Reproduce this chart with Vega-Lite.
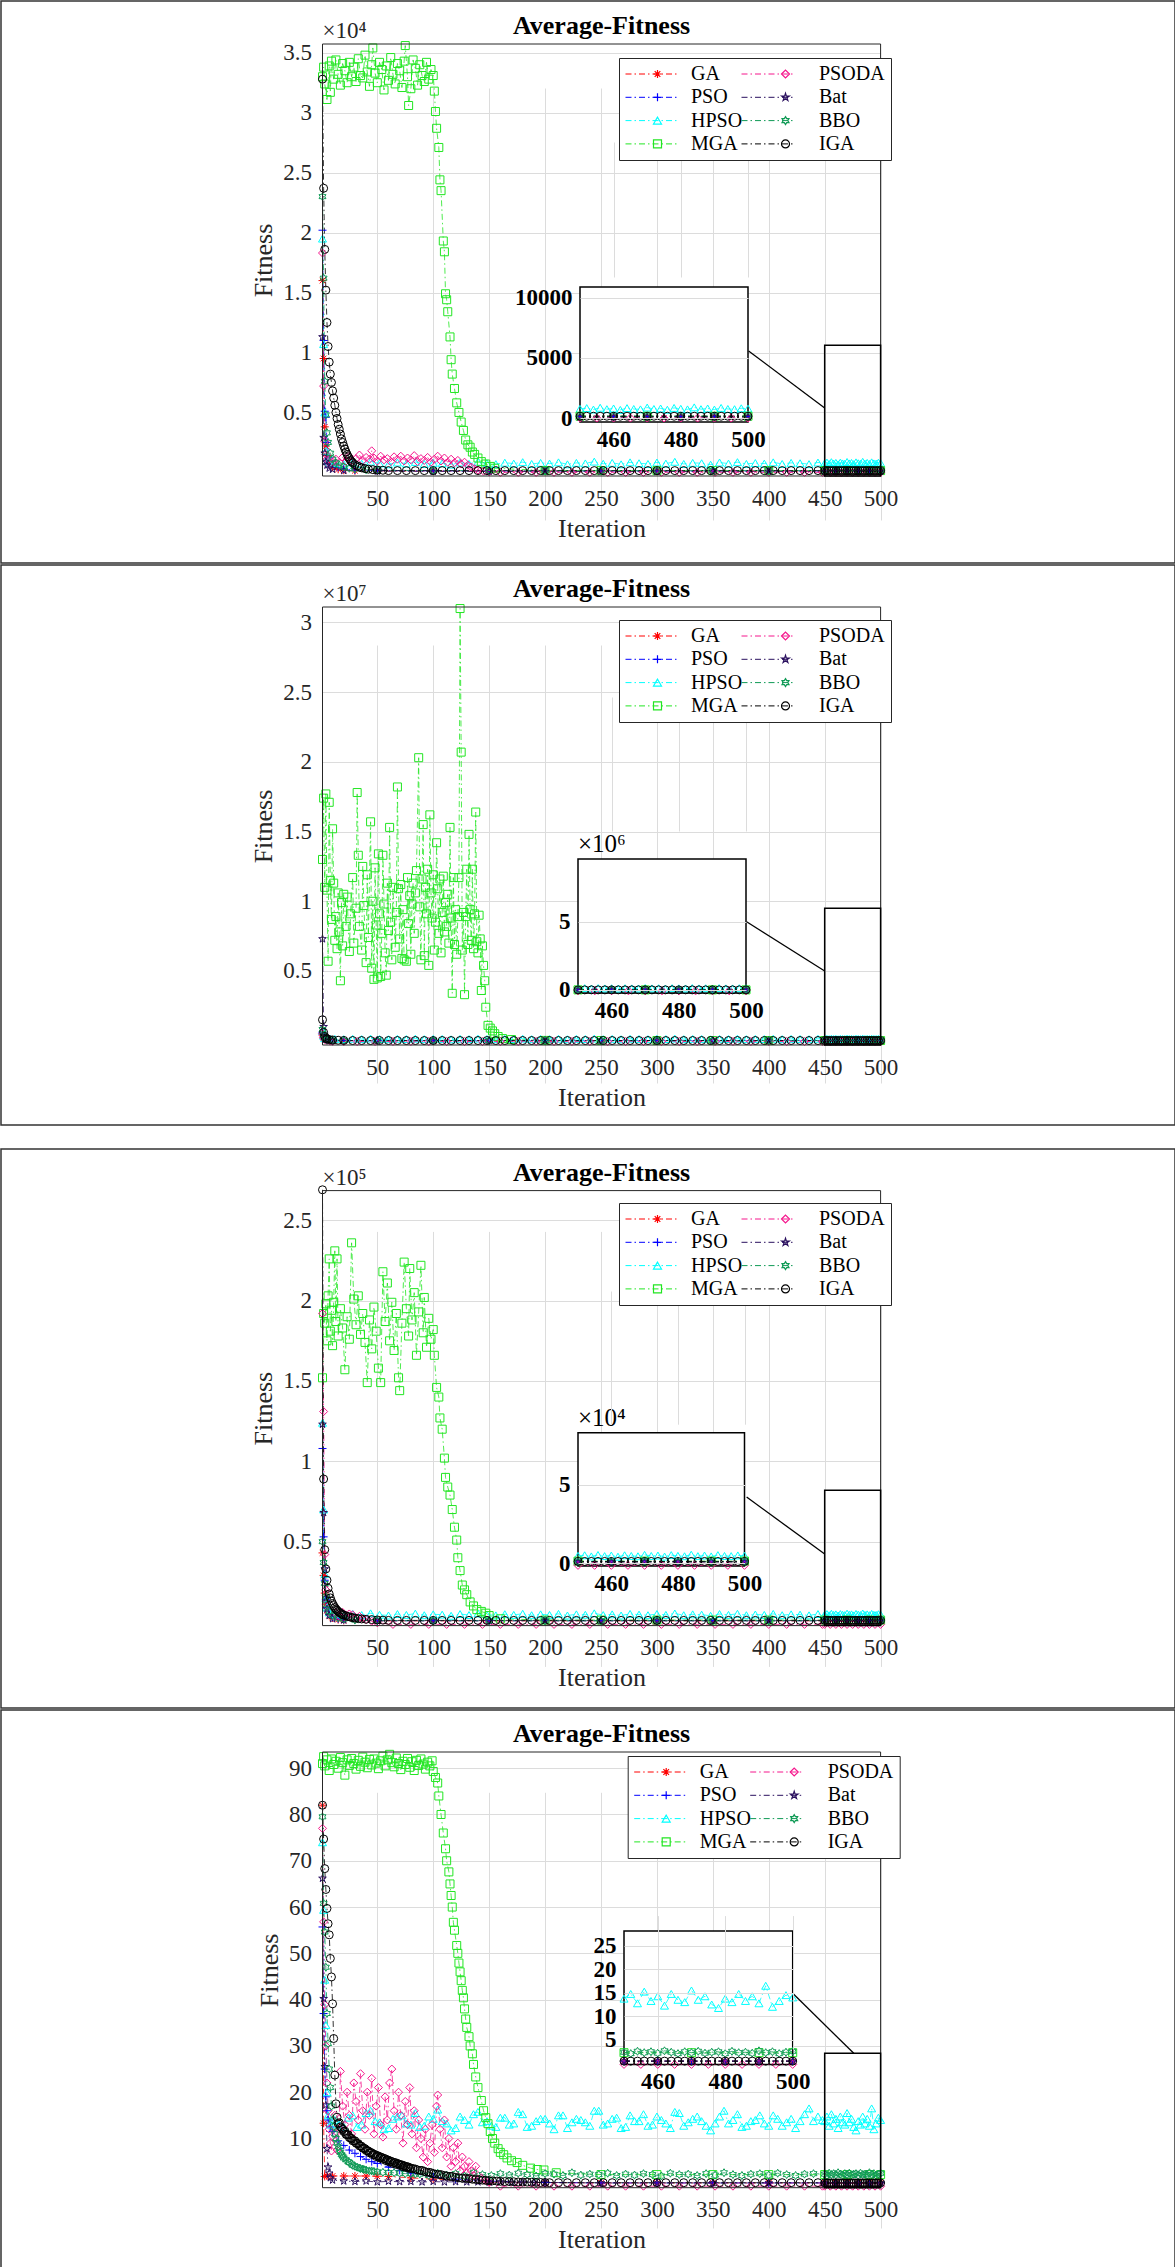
{
"$schema":"https://vega.github.io/schema/vega-lite/v6.json",
"padding":0,
"background":"white",
"config":{
"font":"Liberation Serif",
"view":{"stroke":"#333333","strokeWidth":1.5},
"axis":{"labelFont":"Liberation Serif","titleFont":"Liberation Serif","labelFontSize":23,"titleFontSize":26,"titleFontWeight":"normal","labelColor":"#262626","titleColor":"#262626","domain":false,"ticks":false,"gridColor":"#dcdcdc","gridWidth":1,"labelFlush":false,"labelOverlap":false,"labelBound":false},
"legend":{"labelFont":"Liberation Serif"}
},
"datasets":{
"d1":[
{"s":"GA","x":1,"y":16000},{"s":"GA","x":2,"y":9500},{"s":"GA","x":3,"y":3800},{"s":"GA","x":4,"y":2200},{"s":"GA","x":5,"y":1400},{"s":"GA","x":7,"y":800},{"s":"GA","x":10,"y":450},{"s":"GA","x":15,"y":260},{"s":"GA","x":20,"y":180},{"s":"GA","x":30,"y":140},{"s":"GA","x":50,"y":120},{"s":"GA","x":100,"y":110},{"s":"GA","x":150,"y":100},{"s":"GA","x":200,"y":100},{"s":"GA","x":250,"y":100},{"s":"GA","x":300,"y":100},{"s":"GA","x":350,"y":100},{"s":"GA","x":400,"y":100},{"s":"GA","x":450,"y":100},{"s":"GA","x":460,"y":100},{"s":"GA","x":470,"y":100},{"s":"GA","x":480,"y":100},{"s":"GA","x":490,"y":100},{"s":"GA","x":500,"y":100},
{"s":"PSO","x":1,"y":20200},{"s":"PSO","x":2,"y":11000},{"s":"PSO","x":3,"y":5100},{"s":"PSO","x":4,"y":4600},{"s":"PSO","x":5,"y":2500},{"s":"PSO","x":7,"y":1200},{"s":"PSO","x":10,"y":700},{"s":"PSO","x":15,"y":420},{"s":"PSO","x":20,"y":290},{"s":"PSO","x":30,"y":200},{"s":"PSO","x":50,"y":150},{"s":"PSO","x":100,"y":130},{"s":"PSO","x":150,"y":120},{"s":"PSO","x":200,"y":120},{"s":"PSO","x":250,"y":120},{"s":"PSO","x":300,"y":120},{"s":"PSO","x":350,"y":120},{"s":"PSO","x":400,"y":120},{"s":"PSO","x":450,"y":120},{"s":"PSO","x":460,"y":120},{"s":"PSO","x":470,"y":120},{"s":"PSO","x":480,"y":120},{"s":"PSO","x":490,"y":120},{"s":"PSO","x":500,"y":120},
{"s":"HPSO","x":1,"y":19500},{"s":"HPSO","x":2,"y":10700},{"s":"HPSO","x":3,"y":5000},{"s":"HPSO","x":4,"y":1800},{"s":"HPSO","x":5,"y":1200},{"s":"HPSO","x":6,"y":950},{"s":"HPSO","x":8,"y":820},
{"s":"HPSO","x":12,"y":780},{"s":"HPSO","x":20,"y":690},{"s":"HPSO","x":28,"y":840},{"s":"HPSO","x":36,"y":720},{"s":"HPSO","x":44,"y":900},{"s":"HPSO","x":52,"y":750},{"s":"HPSO","x":60,"y":675},{"s":"HPSO","x":68,"y":825},{"s":"HPSO","x":76,"y":735},{"s":"HPSO","x":84,"y":870},{"s":"HPSO","x":92,"y":705},{"s":"HPSO","x":100,"y":795},{"s":"HPSO","x":108,"y":765},{"s":"HPSO","x":116,"y":645},{"s":"HPSO","x":124,"y":825},{"s":"HPSO","x":132,"y":720},{"s":"HPSO","x":140,"y":885},{"s":"HPSO","x":148,"y":765},{"s":"HPSO","x":156,"y":690},{"s":"HPSO","x":164,"y":810},{"s":"HPSO","x":172,"y":735},{"s":"HPSO","x":180,"y":855},{"s":"HPSO","x":188,"y":705},{"s":"HPSO","x":196,"y":795},{"s":"HPSO","x":204,"y":735},{"s":"HPSO","x":212,"y":840},{"s":"HPSO","x":220,"y":675},{"s":"HPSO","x":228,"y":795},{"s":"HPSO","x":236,"y":750},{"s":"HPSO","x":244,"y":900},{"s":"HPSO","x":252,"y":720},{"s":"HPSO","x":260,"y":795},{"s":"HPSO","x":268,"y":675},{"s":"HPSO","x":276,"y":840},{"s":"HPSO","x":284,"y":765},{"s":"HPSO","x":292,"y":705},{"s":"HPSO","x":300,"y":825},{"s":"HPSO","x":308,"y":735},{"s":"HPSO","x":316,"y":885},{"s":"HPSO","x":324,"y":705},{"s":"HPSO","x":332,"y":795},{"s":"HPSO","x":340,"y":765},{"s":"HPSO","x":348,"y":645},{"s":"HPSO","x":356,"y":825},{"s":"HPSO","x":364,"y":735},{"s":"HPSO","x":372,"y":855},{"s":"HPSO","x":380,"y":705},{"s":"HPSO","x":388,"y":780},{"s":"HPSO","x":396,"y":735},{"s":"HPSO","x":404,"y":840},{"s":"HPSO","x":412,"y":705},{"s":"HPSO","x":420,"y":795},{"s":"HPSO","x":428,"y":765},{"s":"HPSO","x":436,"y":690},{"s":"HPSO","x":444,"y":825},
{"s":"HPSO","x":450,"y":765},{"s":"HPSO","x":452,"y":825},{"s":"HPSO","x":454,"y":705},{"s":"HPSO","x":456,"y":855},{"s":"HPSO","x":458,"y":735},{"s":"HPSO","x":460,"y":795},{"s":"HPSO","x":462,"y":675},{"s":"HPSO","x":464,"y":825},{"s":"HPSO","x":466,"y":750},{"s":"HPSO","x":468,"y":720},{"s":"HPSO","x":470,"y":870},{"s":"HPSO","x":472,"y":750},{"s":"HPSO","x":474,"y":795},{"s":"HPSO","x":476,"y":690},{"s":"HPSO","x":478,"y":840},{"s":"HPSO","x":480,"y":765},{"s":"HPSO","x":482,"y":720},{"s":"HPSO","x":484,"y":885},{"s":"HPSO","x":486,"y":735},{"s":"HPSO","x":488,"y":795},{"s":"HPSO","x":490,"y":705},{"s":"HPSO","x":492,"y":840},{"s":"HPSO","x":494,"y":750},{"s":"HPSO","x":496,"y":735},{"s":"HPSO","x":498,"y":810},{"s":"HPSO","x":500,"y":780},
{"s":"MGA","x":1,"y":33000},{"s":"MGA","x":2,"y":33800},{"s":"MGA","x":3,"y":32400},{"s":"MGA","x":5,"y":31100},{"s":"MGA","x":7,"y":33900},{"s":"MGA","x":8,"y":31700},{"s":"MGA","x":9,"y":34300},{"s":"MGA","x":11,"y":32800},{"s":"MGA","x":13,"y":34400},{"s":"MGA","x":15,"y":33200},{"s":"MGA","x":17,"y":32300},{"s":"MGA","x":19,"y":34100},{"s":"MGA","x":21,"y":33500},{"s":"MGA","x":23,"y":32500},{"s":"MGA","x":25,"y":34200},{"s":"MGA","x":27,"y":33000},{"s":"MGA","x":29,"y":33800},{"s":"MGA","x":31,"y":32600},{"s":"MGA","x":33,"y":34500},{"s":"MGA","x":35,"y":33100},{"s":"MGA","x":37,"y":32900},{"s":"MGA","x":39,"y":34800},{"s":"MGA","x":41,"y":33400},{"s":"MGA","x":43,"y":32200},{"s":"MGA","x":45,"y":34000},{"s":"MGA","x":46,"y":35400},{"s":"MGA","x":48,"y":33300},{"s":"MGA","x":50,"y":32500},{"s":"MGA","x":52,"y":34200},{"s":"MGA","x":54,"y":33600},{"s":"MGA","x":56,"y":31900},{"s":"MGA","x":58,"y":33900},{"s":"MGA","x":60,"y":32700},{"s":"MGA","x":62,"y":34600},{"s":"MGA","x":64,"y":33200},{"s":"MGA","x":66,"y":32400},{"s":"MGA","x":68,"y":34100},{"s":"MGA","x":70,"y":33500},{"s":"MGA","x":72,"y":32100},{"s":"MGA","x":74,"y":34300},{"s":"MGA","x":75,"y":35600},{"s":"MGA","x":77,"y":33000},{"s":"MGA","x":78,"y":30600},{"s":"MGA","x":80,"y":32000},{"s":"MGA","x":82,"y":34400},{"s":"MGA","x":84,"y":33700},{"s":"MGA","x":86,"y":32300},{"s":"MGA","x":88,"y":34000},{"s":"MGA","x":90,"y":33100},{"s":"MGA","x":92,"y":32600},{"s":"MGA","x":94,"y":34200},{"s":"MGA","x":96,"y":32800},{"s":"MGA","x":98,"y":33600},{"s":"MGA","x":100,"y":33100},
{"s":"MGA","x":101,"y":31800},{"s":"MGA","x":102,"y":30100},{"s":"MGA","x":103,"y":28700},{"s":"MGA","x":105,"y":27100},{"s":"MGA","x":106,"y":24400},{"s":"MGA","x":107,"y":23500},{"s":"MGA","x":109,"y":19300},{"s":"MGA","x":110,"y":18400},{"s":"MGA","x":111,"y":14900},{"s":"MGA","x":112,"y":14400},{"s":"MGA","x":113,"y":13400},{"s":"MGA","x":115,"y":11300},{"s":"MGA","x":116,"y":9400},{"s":"MGA","x":117,"y":8200},{"s":"MGA","x":119,"y":7000},{"s":"MGA","x":121,"y":5800},{"s":"MGA","x":123,"y":5000},{"s":"MGA","x":125,"y":4200},{"s":"MGA","x":127,"y":3500},{"s":"MGA","x":129,"y":2700},{"s":"MGA","x":131,"y":2300},{"s":"MGA","x":133,"y":2100},{"s":"MGA","x":135,"y":1700},{"s":"MGA","x":137,"y":1500},{"s":"MGA","x":140,"y":1200},{"s":"MGA","x":143,"y":900},{"s":"MGA","x":147,"y":700},{"s":"MGA","x":151,"y":500},{"s":"MGA","x":155,"y":350},{"s":"MGA","x":200,"y":150},{"s":"MGA","x":250,"y":150},{"s":"MGA","x":300,"y":150},{"s":"MGA","x":350,"y":150},{"s":"MGA","x":400,"y":150},{"s":"MGA","x":450,"y":150},{"s":"MGA","x":470,"y":150},{"s":"MGA","x":490,"y":150},{"s":"MGA","x":500,"y":150},
{"s":"PSODA","x":1,"y":18300},{"s":"PSODA","x":2,"y":7200},{"s":"PSODA","x":3,"y":2600},{"s":"PSODA","x":4,"y":1500},{"s":"PSODA","x":5,"y":1100},{"s":"PSODA","x":6,"y":900},{"s":"PSODA","x":8,"y":700},{"s":"PSODA","x":10,"y":850},{"s":"PSODA","x":13,"y":1100},{"s":"PSODA","x":16,"y":850},{"s":"PSODA","x":19,"y":1250},{"s":"PSODA","x":22,"y":950},{"s":"PSODA","x":25,"y":1350},{"s":"PSODA","x":28,"y":900},{"s":"PSODA","x":31,"y":1150},{"s":"PSODA","x":34,"y":1450},{"s":"PSODA","x":37,"y":1000},{"s":"PSODA","x":40,"y":1250},{"s":"PSODA","x":43,"y":1100},{"s":"PSODA","x":45,"y":1800},{"s":"PSODA","x":47,"y":1200},{"s":"PSODA","x":50,"y":950},{"s":"PSODA","x":53,"y":1350},{"s":"PSODA","x":56,"y":1050},{"s":"PSODA","x":59,"y":1150},{"s":"PSODA","x":62,"y":900},{"s":"PSODA","x":65,"y":1300},{"s":"PSODA","x":68,"y":1100},{"s":"PSODA","x":71,"y":1350},{"s":"PSODA","x":74,"y":950},{"s":"PSODA","x":77,"y":1200},{"s":"PSODA","x":80,"y":1050},{"s":"PSODA","x":83,"y":1400},{"s":"PSODA","x":86,"y":900},{"s":"PSODA","x":89,"y":1150},{"s":"PSODA","x":92,"y":1000},{"s":"PSODA","x":95,"y":1250},{"s":"PSODA","x":98,"y":850},{"s":"PSODA","x":101,"y":1100},{"s":"PSODA","x":104,"y":1350},{"s":"PSODA","x":107,"y":950},{"s":"PSODA","x":110,"y":1200},{"s":"PSODA","x":113,"y":850},{"s":"PSODA","x":116,"y":1100},{"s":"PSODA","x":119,"y":800},{"s":"PSODA","x":122,"y":1000},{"s":"PSODA","x":125,"y":700},{"s":"PSODA","x":128,"y":850},{"s":"PSODA","x":131,"y":600},{"s":"PSODA","x":134,"y":450},{"s":"PSODA","x":137,"y":300},{"s":"PSODA","x":140,"y":200},{"s":"PSODA","x":145,"y":100},{"s":"PSODA","x":150,"y":40},
{"s":"PSODA","x":160,"y":0},{"s":"PSODA","x":176,"y":0},{"s":"PSODA","x":192,"y":0},{"s":"PSODA","x":208,"y":0},{"s":"PSODA","x":224,"y":0},{"s":"PSODA","x":240,"y":0},{"s":"PSODA","x":256,"y":0},{"s":"PSODA","x":272,"y":0},{"s":"PSODA","x":288,"y":0},{"s":"PSODA","x":304,"y":0},{"s":"PSODA","x":320,"y":0},{"s":"PSODA","x":336,"y":0},{"s":"PSODA","x":352,"y":0},{"s":"PSODA","x":368,"y":0},{"s":"PSODA","x":384,"y":0},{"s":"PSODA","x":400,"y":0},{"s":"PSODA","x":416,"y":0},{"s":"PSODA","x":432,"y":0},{"s":"PSODA","x":448,"y":0},
{"s":"PSODA","x":450,"y":0},{"s":"PSODA","x":455,"y":0},{"s":"PSODA","x":460,"y":0},{"s":"PSODA","x":465,"y":0},{"s":"PSODA","x":470,"y":0},{"s":"PSODA","x":475,"y":0},{"s":"PSODA","x":480,"y":0},{"s":"PSODA","x":485,"y":0},{"s":"PSODA","x":490,"y":0},{"s":"PSODA","x":495,"y":0},{"s":"PSODA","x":500,"y":0},
{"s":"Bat","x":1,"y":11300},{"s":"Bat","x":2,"y":2900},{"s":"Bat","x":3,"y":1600},{"s":"Bat","x":4,"y":900},{"s":"Bat","x":5,"y":600},{"s":"Bat","x":7,"y":350},{"s":"Bat","x":10,"y":250},{"s":"Bat","x":20,"y":150},{"s":"Bat","x":50,"y":100},{"s":"Bat","x":100,"y":80},{"s":"Bat","x":150,"y":80},{"s":"Bat","x":200,"y":80},{"s":"Bat","x":250,"y":80},{"s":"Bat","x":300,"y":80},{"s":"Bat","x":350,"y":80},{"s":"Bat","x":400,"y":80},{"s":"Bat","x":450,"y":80},{"s":"Bat","x":460,"y":80},{"s":"Bat","x":470,"y":80},{"s":"Bat","x":480,"y":80},{"s":"Bat","x":490,"y":80},{"s":"Bat","x":500,"y":80},
{"s":"BBO","x":1,"y":23000},{"s":"BBO","x":2,"y":16200},{"s":"BBO","x":3,"y":7600},{"s":"BBO","x":4,"y":4800},{"s":"BBO","x":5,"y":3300},{"s":"BBO","x":6,"y":2500},{"s":"BBO","x":8,"y":1600},{"s":"BBO","x":10,"y":1100},{"s":"BBO","x":13,"y":800},{"s":"BBO","x":16,"y":600},{"s":"BBO","x":20,"y":450},{"s":"BBO","x":25,"y":350},{"s":"BBO","x":30,"y":280},{"s":"BBO","x":40,"y":220},{"s":"BBO","x":50,"y":180},{"s":"BBO","x":100,"y":150},{"s":"BBO","x":150,"y":150},{"s":"BBO","x":200,"y":150},{"s":"BBO","x":250,"y":150},{"s":"BBO","x":300,"y":150},{"s":"BBO","x":350,"y":150},{"s":"BBO","x":400,"y":150},{"s":"BBO","x":450,"y":150},{"s":"BBO","x":460,"y":150},{"s":"BBO","x":470,"y":150},{"s":"BBO","x":480,"y":150},{"s":"BBO","x":490,"y":150},{"s":"BBO","x":500,"y":150},
{"s":"IGA","x":1,"y":32800},{"s":"IGA","x":2,"y":23700},{"s":"IGA","x":3,"y":18600},{"s":"IGA","x":4,"y":15200},{"s":"IGA","x":5,"y":12500},{"s":"IGA","x":6,"y":10500},{"s":"IGA","x":7,"y":9200},{"s":"IGA","x":8,"y":8200},{"s":"IGA","x":9,"y":7500},{"s":"IGA","x":10,"y":6800},{"s":"IGA","x":11,"y":6200},{"s":"IGA","x":12,"y":5600},{"s":"IGA","x":13,"y":5000},{"s":"IGA","x":14,"y":4500},{"s":"IGA","x":15,"y":4000},{"s":"IGA","x":16,"y":3600},{"s":"IGA","x":17,"y":3200},{"s":"IGA","x":18,"y":2800},{"s":"IGA","x":19,"y":2500},{"s":"IGA","x":20,"y":2200},{"s":"IGA","x":21,"y":1950},{"s":"IGA","x":22,"y":1700},{"s":"IGA","x":23,"y":1500},{"s":"IGA","x":24,"y":1300},{"s":"IGA","x":25,"y":1150},{"s":"IGA","x":26,"y":1000},{"s":"IGA","x":27,"y":900},{"s":"IGA","x":28,"y":800},{"s":"IGA","x":30,"y":650},{"s":"IGA","x":32,"y":540},{"s":"IGA","x":34,"y":450},{"s":"IGA","x":36,"y":380},{"s":"IGA","x":39,"y":320},{"s":"IGA","x":42,"y":270},{"s":"IGA","x":46,"y":230},{"s":"IGA","x":50,"y":200},{"s":"IGA","x":55,"y":180},
{"s":"IGA","x":60,"y":150},{"s":"IGA","x":68,"y":150},{"s":"IGA","x":76,"y":150},{"s":"IGA","x":84,"y":150},{"s":"IGA","x":92,"y":150},{"s":"IGA","x":100,"y":150},{"s":"IGA","x":108,"y":150},{"s":"IGA","x":116,"y":150},{"s":"IGA","x":124,"y":150},{"s":"IGA","x":132,"y":150},{"s":"IGA","x":140,"y":150},{"s":"IGA","x":148,"y":150},{"s":"IGA","x":156,"y":150},{"s":"IGA","x":164,"y":150},{"s":"IGA","x":172,"y":150},{"s":"IGA","x":180,"y":150},{"s":"IGA","x":188,"y":150},{"s":"IGA","x":196,"y":150},{"s":"IGA","x":204,"y":150},{"s":"IGA","x":212,"y":150},{"s":"IGA","x":220,"y":150},{"s":"IGA","x":228,"y":150},{"s":"IGA","x":236,"y":150},{"s":"IGA","x":244,"y":150},{"s":"IGA","x":252,"y":150},{"s":"IGA","x":260,"y":150},{"s":"IGA","x":268,"y":150},{"s":"IGA","x":276,"y":150},{"s":"IGA","x":284,"y":150},{"s":"IGA","x":292,"y":150},{"s":"IGA","x":300,"y":150},{"s":"IGA","x":308,"y":150},{"s":"IGA","x":316,"y":150},{"s":"IGA","x":324,"y":150},{"s":"IGA","x":332,"y":150},{"s":"IGA","x":340,"y":150},{"s":"IGA","x":348,"y":150},{"s":"IGA","x":356,"y":150},{"s":"IGA","x":364,"y":150},{"s":"IGA","x":372,"y":150},{"s":"IGA","x":380,"y":150},{"s":"IGA","x":388,"y":150},{"s":"IGA","x":396,"y":150},{"s":"IGA","x":404,"y":150},{"s":"IGA","x":412,"y":150},{"s":"IGA","x":420,"y":150},{"s":"IGA","x":428,"y":150},{"s":"IGA","x":436,"y":150},{"s":"IGA","x":444,"y":150},
{"s":"IGA","x":450,"y":150},{"s":"IGA","x":452,"y":150},{"s":"IGA","x":454,"y":150},{"s":"IGA","x":456,"y":150},{"s":"IGA","x":458,"y":150},{"s":"IGA","x":460,"y":150},{"s":"IGA","x":462,"y":150},{"s":"IGA","x":464,"y":150},{"s":"IGA","x":466,"y":150},{"s":"IGA","x":468,"y":150},{"s":"IGA","x":470,"y":150},{"s":"IGA","x":472,"y":150},{"s":"IGA","x":474,"y":150},{"s":"IGA","x":476,"y":150},{"s":"IGA","x":478,"y":150},{"s":"IGA","x":480,"y":150},{"s":"IGA","x":482,"y":150},{"s":"IGA","x":484,"y":150},{"s":"IGA","x":486,"y":150},{"s":"IGA","x":488,"y":150},{"s":"IGA","x":490,"y":150},{"s":"IGA","x":492,"y":150},{"s":"IGA","x":494,"y":150},{"s":"IGA","x":496,"y":150},{"s":"IGA","x":498,"y":150},{"s":"IGA","x":500,"y":150}
],
"d2":[
{"s":"GA","x":1,"y":400000},{"s":"GA","x":2,"y":200000},{"s":"GA","x":3,"y":100000},{"s":"GA","x":5,"y":50000},{"s":"GA","x":10,"y":20000},{"s":"GA","x":20,"y":10000},{"s":"GA","x":50,"y":5000},{"s":"GA","x":100,"y":5000},{"s":"GA","x":150,"y":5000},{"s":"GA","x":200,"y":5000},{"s":"GA","x":250,"y":5000},{"s":"GA","x":300,"y":5000},{"s":"GA","x":350,"y":5000},{"s":"GA","x":400,"y":5000},{"s":"GA","x":450,"y":5000},{"s":"GA","x":460,"y":5000},{"s":"GA","x":470,"y":5000},{"s":"GA","x":480,"y":5000},{"s":"GA","x":490,"y":5000},{"s":"GA","x":500,"y":5000},
{"s":"PSO","x":1,"y":600000},{"s":"PSO","x":2,"y":300000},{"s":"PSO","x":3,"y":150000},{"s":"PSO","x":5,"y":60000},{"s":"PSO","x":10,"y":20000},{"s":"PSO","x":20,"y":10000},{"s":"PSO","x":50,"y":5000},{"s":"PSO","x":100,"y":5000},{"s":"PSO","x":150,"y":5000},{"s":"PSO","x":200,"y":5000},{"s":"PSO","x":250,"y":5000},{"s":"PSO","x":300,"y":5000},{"s":"PSO","x":350,"y":5000},{"s":"PSO","x":400,"y":5000},{"s":"PSO","x":450,"y":5000},{"s":"PSO","x":460,"y":5000},{"s":"PSO","x":470,"y":5000},{"s":"PSO","x":480,"y":5000},{"s":"PSO","x":490,"y":5000},{"s":"PSO","x":500,"y":5000},
{"s":"HPSO","x":1,"y":700000},{"s":"HPSO","x":2,"y":350000},{"s":"HPSO","x":3,"y":180000},{"s":"HPSO","x":5,"y":130000},{"s":"HPSO","x":8,"y":120000},
{"s":"HPSO","x":12,"y":126000},{"s":"HPSO","x":20,"y":108000},{"s":"HPSO","x":28,"y":138000},{"s":"HPSO","x":36,"y":114000},{"s":"HPSO","x":44,"y":150000},{"s":"HPSO","x":52,"y":120000},{"s":"HPSO","x":60,"y":105000},{"s":"HPSO","x":68,"y":135000},{"s":"HPSO","x":76,"y":117000},{"s":"HPSO","x":84,"y":144000},{"s":"HPSO","x":92,"y":111000},{"s":"HPSO","x":100,"y":129000},{"s":"HPSO","x":108,"y":123000},{"s":"HPSO","x":116,"y":99000},{"s":"HPSO","x":124,"y":135000},{"s":"HPSO","x":132,"y":114000},{"s":"HPSO","x":140,"y":147000},{"s":"HPSO","x":148,"y":123000},{"s":"HPSO","x":156,"y":108000},{"s":"HPSO","x":164,"y":132000},{"s":"HPSO","x":172,"y":117000},{"s":"HPSO","x":180,"y":141000},{"s":"HPSO","x":188,"y":111000},{"s":"HPSO","x":196,"y":129000},{"s":"HPSO","x":204,"y":117000},{"s":"HPSO","x":212,"y":138000},{"s":"HPSO","x":220,"y":105000},{"s":"HPSO","x":228,"y":129000},{"s":"HPSO","x":236,"y":120000},{"s":"HPSO","x":244,"y":150000},{"s":"HPSO","x":252,"y":114000},{"s":"HPSO","x":260,"y":129000},{"s":"HPSO","x":268,"y":105000},{"s":"HPSO","x":276,"y":138000},{"s":"HPSO","x":284,"y":123000},{"s":"HPSO","x":292,"y":111000},{"s":"HPSO","x":300,"y":135000},{"s":"HPSO","x":308,"y":117000},{"s":"HPSO","x":316,"y":147000},{"s":"HPSO","x":324,"y":111000},{"s":"HPSO","x":332,"y":129000},{"s":"HPSO","x":340,"y":123000},{"s":"HPSO","x":348,"y":99000},{"s":"HPSO","x":356,"y":135000},{"s":"HPSO","x":364,"y":117000},{"s":"HPSO","x":372,"y":141000},{"s":"HPSO","x":380,"y":111000},{"s":"HPSO","x":388,"y":126000},{"s":"HPSO","x":396,"y":117000},{"s":"HPSO","x":404,"y":138000},{"s":"HPSO","x":412,"y":111000},{"s":"HPSO","x":420,"y":129000},{"s":"HPSO","x":428,"y":123000},{"s":"HPSO","x":436,"y":108000},{"s":"HPSO","x":444,"y":135000},
{"s":"HPSO","x":450,"y":123000},{"s":"HPSO","x":452,"y":135000},{"s":"HPSO","x":454,"y":111000},{"s":"HPSO","x":456,"y":141000},{"s":"HPSO","x":458,"y":117000},{"s":"HPSO","x":460,"y":129000},{"s":"HPSO","x":462,"y":105000},{"s":"HPSO","x":464,"y":135000},{"s":"HPSO","x":466,"y":120000},{"s":"HPSO","x":468,"y":114000},{"s":"HPSO","x":470,"y":144000},{"s":"HPSO","x":472,"y":120000},{"s":"HPSO","x":474,"y":129000},{"s":"HPSO","x":476,"y":108000},{"s":"HPSO","x":478,"y":138000},{"s":"HPSO","x":480,"y":123000},{"s":"HPSO","x":482,"y":114000},{"s":"HPSO","x":484,"y":147000},{"s":"HPSO","x":486,"y":117000},{"s":"HPSO","x":488,"y":129000},{"s":"HPSO","x":490,"y":111000},{"s":"HPSO","x":492,"y":138000},{"s":"HPSO","x":494,"y":120000},{"s":"HPSO","x":496,"y":117000},{"s":"HPSO","x":498,"y":132000},{"s":"HPSO","x":500,"y":126000},
{"s":"MGA","x":1,"y":13000000},{"s":"MGA","x":2,"y":17400000},{"s":"MGA","x":3,"y":11000000},{"s":"MGA","x":4,"y":17700000},{"s":"MGA","x":5,"y":10800000},{"s":"MGA","x":6,"y":5700000},{"s":"MGA","x":7,"y":17100000},{"s":"MGA","x":8,"y":11500000},{"s":"MGA","x":9,"y":8700000},{"s":"MGA","x":10,"y":15200000},{"s":"MGA","x":11,"y":11300000},{"s":"MGA","x":12,"y":7200000},{"s":"MGA","x":13,"y":8900000},{"s":"MGA","x":14,"y":6600000},{"s":"MGA","x":15,"y":10600000},{"s":"MGA","x":16,"y":7800000},{"s":"MGA","x":17,"y":4300000},{"s":"MGA","x":18,"y":9900000},{"s":"MGA","x":19,"y":6800000},{"s":"MGA","x":20,"y":10500000},{"s":"MGA","x":22,"y":8200000},{"s":"MGA","x":23,"y":10300000},{"s":"MGA","x":25,"y":6400000},{"s":"MGA","x":26,"y":9100000},{"s":"MGA","x":28,"y":11700000},{"s":"MGA","x":29,"y":7000000},{"s":"MGA","x":31,"y":9500000},{"s":"MGA","x":32,"y":17800000},{"s":"MGA","x":33,"y":13300000},{"s":"MGA","x":34,"y":8200000},{"s":"MGA","x":36,"y":6500000},{"s":"MGA","x":37,"y":12500000},{"s":"MGA","x":38,"y":9700000},{"s":"MGA","x":40,"y":5600000},{"s":"MGA","x":41,"y":11900000},{"s":"MGA","x":42,"y":7400000},{"s":"MGA","x":44,"y":15700000},{"s":"MGA","x":45,"y":5200000},{"s":"MGA","x":46,"y":10000000},{"s":"MGA","x":47,"y":4400000},{"s":"MGA","x":48,"y":12400000},{"s":"MGA","x":49,"y":8300000},{"s":"MGA","x":50,"y":4500000},{"s":"MGA","x":51,"y":13400000},{"s":"MGA","x":52,"y":9100000},{"s":"MGA","x":53,"y":4600000},{"s":"MGA","x":54,"y":7700000},{"s":"MGA","x":55,"y":13300000},{"s":"MGA","x":56,"y":9800000},{"s":"MGA","x":57,"y":6300000},{"s":"MGA","x":58,"y":4700000},{"s":"MGA","x":59,"y":11300000},{"s":"MGA","x":60,"y":7900000},{"s":"MGA","x":61,"y":15300000},{"s":"MGA","x":62,"y":8500000},{"s":"MGA","x":63,"y":5800000},{"s":"MGA","x":64,"y":11000000},{"s":"MGA","x":66,"y":6700000},{"s":"MGA","x":67,"y":9200000},{"s":"MGA","x":68,"y":18200000},{"s":"MGA","x":69,"y":10900000},{"s":"MGA","x":70,"y":7300000},{"s":"MGA","x":71,"y":11200000},{"s":"MGA","x":72,"y":5900000},{"s":"MGA","x":73,"y":9400000},{"s":"MGA","x":74,"y":5800000},{"s":"MGA","x":76,"y":5700000},{"s":"MGA","x":77,"y":11700000},{"s":"MGA","x":78,"y":8400000},{"s":"MGA","x":79,"y":10400000},{"s":"MGA","x":80,"y":6200000},{"s":"MGA","x":81,"y":9800000},{"s":"MGA","x":82,"y":11300000},{"s":"MGA","x":83,"y":7700000},{"s":"MGA","x":84,"y":10600000},{"s":"MGA","x":85,"y":12200000},{"s":"MGA","x":87,"y":20300000},{"s":"MGA","x":88,"y":9600000},{"s":"MGA","x":89,"y":5800000},{"s":"MGA","x":90,"y":11600000},{"s":"MGA","x":91,"y":15500000},{"s":"MGA","x":92,"y":6100000},{"s":"MGA","x":93,"y":11000000},{"s":"MGA","x":94,"y":9100000},{"s":"MGA","x":95,"y":12300000},{"s":"MGA","x":96,"y":5400000},{"s":"MGA","x":97,"y":16200000},{"s":"MGA","x":98,"y":10600000},{"s":"MGA","x":99,"y":8800000},{"s":"MGA","x":100,"y":11900000},{"s":"MGA","x":101,"y":6500000},{"s":"MGA","x":102,"y":8500000},{"s":"MGA","x":103,"y":14200000},{"s":"MGA","x":104,"y":10900000},{"s":"MGA","x":105,"y":7700000},{"s":"MGA","x":106,"y":11600000},{"s":"MGA","x":107,"y":6300000},{"s":"MGA","x":108,"y":9200000},{"s":"MGA","x":109,"y":11800000},{"s":"MGA","x":110,"y":7800000},{"s":"MGA","x":111,"y":9900000},{"s":"MGA","x":112,"y":8200000},{"s":"MGA","x":113,"y":10500000},{"s":"MGA","x":114,"y":7000000},{"s":"MGA","x":115,"y":15300000},{"s":"MGA","x":116,"y":8800000},{"s":"MGA","x":117,"y":3400000},{"s":"MGA","x":118,"y":11700000},{"s":"MGA","x":119,"y":6900000},{"s":"MGA","x":120,"y":9400000},{"s":"MGA","x":121,"y":6200000},{"s":"MGA","x":122,"y":8900000},{"s":"MGA","x":123,"y":11700000},{"s":"MGA","x":124,"y":31000000},{"s":"MGA","x":125,"y":20700000},{"s":"MGA","x":126,"y":6500000},{"s":"MGA","x":127,"y":9200000},{"s":"MGA","x":128,"y":3300000},{"s":"MGA","x":129,"y":8900000},{"s":"MGA","x":130,"y":12300000},{"s":"MGA","x":131,"y":6900000},{"s":"MGA","x":132,"y":14800000},{"s":"MGA","x":133,"y":9400000},{"s":"MGA","x":134,"y":7200000},{"s":"MGA","x":135,"y":12300000},{"s":"MGA","x":136,"y":6600000},{"s":"MGA","x":137,"y":9100000},{"s":"MGA","x":138,"y":16400000},{"s":"MGA","x":139,"y":7100000},{"s":"MGA","x":140,"y":6300000},{"s":"MGA","x":141,"y":9000000},{"s":"MGA","x":142,"y":7300000},{"s":"MGA","x":143,"y":3600000},{"s":"MGA","x":144,"y":6800000},{"s":"MGA","x":145,"y":5400000},{"s":"MGA","x":146,"y":4300000},{"s":"MGA","x":147,"y":2400000},{"s":"MGA","x":149,"y":1100000},{"s":"MGA","x":151,"y":900000},{"s":"MGA","x":153,"y":700000},{"s":"MGA","x":155,"y":500000},{"s":"MGA","x":158,"y":300000},{"s":"MGA","x":162,"y":150000},{"s":"MGA","x":170,"y":80000},{"s":"MGA","x":200,"y":20000},{"s":"MGA","x":250,"y":10000},{"s":"MGA","x":300,"y":10000},{"s":"MGA","x":350,"y":10000},{"s":"MGA","x":400,"y":10000},{"s":"MGA","x":450,"y":10000},{"s":"MGA","x":470,"y":10000},{"s":"MGA","x":490,"y":10000},{"s":"MGA","x":500,"y":10000},
{"s":"PSODA","x":1,"y":500000},{"s":"PSODA","x":2,"y":200000},{"s":"PSODA","x":3,"y":100000},{"s":"PSODA","x":5,"y":20000},{"s":"PSODA","x":8,"y":-30000},{"s":"PSODA","x":10,"y":-50000},{"s":"PSODA","x":20,"y":-60000},
{"s":"PSODA","x":32,"y":-60000},{"s":"PSODA","x":48,"y":-60000},{"s":"PSODA","x":64,"y":-60000},{"s":"PSODA","x":80,"y":-60000},{"s":"PSODA","x":96,"y":-60000},{"s":"PSODA","x":112,"y":-60000},{"s":"PSODA","x":128,"y":-60000},{"s":"PSODA","x":144,"y":-60000},{"s":"PSODA","x":160,"y":-60000},{"s":"PSODA","x":176,"y":-60000},{"s":"PSODA","x":192,"y":-60000},{"s":"PSODA","x":208,"y":-60000},{"s":"PSODA","x":224,"y":-60000},{"s":"PSODA","x":240,"y":-60000},{"s":"PSODA","x":256,"y":-60000},{"s":"PSODA","x":272,"y":-60000},{"s":"PSODA","x":288,"y":-60000},{"s":"PSODA","x":304,"y":-60000},{"s":"PSODA","x":320,"y":-60000},{"s":"PSODA","x":336,"y":-60000},{"s":"PSODA","x":352,"y":-60000},{"s":"PSODA","x":368,"y":-60000},{"s":"PSODA","x":384,"y":-60000},{"s":"PSODA","x":400,"y":-60000},{"s":"PSODA","x":416,"y":-60000},{"s":"PSODA","x":432,"y":-60000},{"s":"PSODA","x":448,"y":-60000},
{"s":"PSODA","x":450,"y":-60000},{"s":"PSODA","x":455,"y":-60000},{"s":"PSODA","x":460,"y":-60000},{"s":"PSODA","x":465,"y":-60000},{"s":"PSODA","x":470,"y":-60000},{"s":"PSODA","x":475,"y":-60000},{"s":"PSODA","x":480,"y":-60000},{"s":"PSODA","x":485,"y":-60000},{"s":"PSODA","x":490,"y":-60000},{"s":"PSODA","x":495,"y":-60000},{"s":"PSODA","x":500,"y":-60000},
{"s":"Bat","x":1,"y":7300000},{"s":"Bat","x":2,"y":1000000},{"s":"Bat","x":3,"y":300000},{"s":"Bat","x":4,"y":100000},{"s":"Bat","x":6,"y":50000},{"s":"Bat","x":10,"y":10000},{"s":"Bat","x":50,"y":10000},{"s":"Bat","x":100,"y":10000},{"s":"Bat","x":150,"y":10000},{"s":"Bat","x":200,"y":10000},{"s":"Bat","x":250,"y":10000},{"s":"Bat","x":300,"y":10000},{"s":"Bat","x":350,"y":10000},{"s":"Bat","x":400,"y":10000},{"s":"Bat","x":450,"y":10000},{"s":"Bat","x":460,"y":10000},{"s":"Bat","x":470,"y":10000},{"s":"Bat","x":480,"y":10000},{"s":"Bat","x":490,"y":10000},{"s":"Bat","x":500,"y":10000},
{"s":"BBO","x":1,"y":800000},{"s":"BBO","x":2,"y":400000},{"s":"BBO","x":3,"y":200000},{"s":"BBO","x":5,"y":80000},{"s":"BBO","x":10,"y":30000},{"s":"BBO","x":20,"y":10000},{"s":"BBO","x":50,"y":10000},{"s":"BBO","x":100,"y":10000},{"s":"BBO","x":150,"y":10000},{"s":"BBO","x":200,"y":10000},{"s":"BBO","x":250,"y":10000},{"s":"BBO","x":300,"y":10000},{"s":"BBO","x":350,"y":10000},{"s":"BBO","x":400,"y":10000},{"s":"BBO","x":450,"y":10000},{"s":"BBO","x":460,"y":10000},{"s":"BBO","x":470,"y":10000},{"s":"BBO","x":480,"y":10000},{"s":"BBO","x":490,"y":10000},{"s":"BBO","x":500,"y":10000},
{"s":"IGA","x":1,"y":1500000},{"s":"IGA","x":2,"y":600000},{"s":"IGA","x":3,"y":300000},{"s":"IGA","x":4,"y":180000},{"s":"IGA","x":5,"y":120000},{"s":"IGA","x":7,"y":80000},{"s":"IGA","x":10,"y":50000},{"s":"IGA","x":15,"y":30000},{"s":"IGA","x":20,"y":20000},{"s":"IGA","x":28,"y":10000},{"s":"IGA","x":36,"y":10000},{"s":"IGA","x":44,"y":10000},{"s":"IGA","x":52,"y":10000},
{"s":"IGA","x":60,"y":10000},{"s":"IGA","x":68,"y":10000},{"s":"IGA","x":76,"y":10000},{"s":"IGA","x":84,"y":10000},{"s":"IGA","x":92,"y":10000},{"s":"IGA","x":100,"y":10000},{"s":"IGA","x":108,"y":10000},{"s":"IGA","x":116,"y":10000},{"s":"IGA","x":124,"y":10000},{"s":"IGA","x":132,"y":10000},{"s":"IGA","x":140,"y":10000},{"s":"IGA","x":148,"y":10000},{"s":"IGA","x":156,"y":10000},{"s":"IGA","x":164,"y":10000},{"s":"IGA","x":172,"y":10000},{"s":"IGA","x":180,"y":10000},{"s":"IGA","x":188,"y":10000},{"s":"IGA","x":196,"y":10000},{"s":"IGA","x":204,"y":10000},{"s":"IGA","x":212,"y":10000},{"s":"IGA","x":220,"y":10000},{"s":"IGA","x":228,"y":10000},{"s":"IGA","x":236,"y":10000},{"s":"IGA","x":244,"y":10000},{"s":"IGA","x":252,"y":10000},{"s":"IGA","x":260,"y":10000},{"s":"IGA","x":268,"y":10000},{"s":"IGA","x":276,"y":10000},{"s":"IGA","x":284,"y":10000},{"s":"IGA","x":292,"y":10000},{"s":"IGA","x":300,"y":10000},{"s":"IGA","x":308,"y":10000},{"s":"IGA","x":316,"y":10000},{"s":"IGA","x":324,"y":10000},{"s":"IGA","x":332,"y":10000},{"s":"IGA","x":340,"y":10000},{"s":"IGA","x":348,"y":10000},{"s":"IGA","x":356,"y":10000},{"s":"IGA","x":364,"y":10000},{"s":"IGA","x":372,"y":10000},{"s":"IGA","x":380,"y":10000},{"s":"IGA","x":388,"y":10000},{"s":"IGA","x":396,"y":10000},{"s":"IGA","x":404,"y":10000},{"s":"IGA","x":412,"y":10000},{"s":"IGA","x":420,"y":10000},{"s":"IGA","x":428,"y":10000},{"s":"IGA","x":436,"y":10000},{"s":"IGA","x":444,"y":10000},
{"s":"IGA","x":450,"y":10000},{"s":"IGA","x":452,"y":10000},{"s":"IGA","x":454,"y":10000},{"s":"IGA","x":456,"y":10000},{"s":"IGA","x":458,"y":10000},{"s":"IGA","x":460,"y":10000},{"s":"IGA","x":462,"y":10000},{"s":"IGA","x":464,"y":10000},{"s":"IGA","x":466,"y":10000},{"s":"IGA","x":468,"y":10000},{"s":"IGA","x":470,"y":10000},{"s":"IGA","x":472,"y":10000},{"s":"IGA","x":474,"y":10000},{"s":"IGA","x":476,"y":10000},{"s":"IGA","x":478,"y":10000},{"s":"IGA","x":480,"y":10000},{"s":"IGA","x":482,"y":10000},{"s":"IGA","x":484,"y":10000},{"s":"IGA","x":486,"y":10000},{"s":"IGA","x":488,"y":10000},{"s":"IGA","x":490,"y":10000},{"s":"IGA","x":492,"y":10000},{"s":"IGA","x":494,"y":10000},{"s":"IGA","x":496,"y":10000},{"s":"IGA","x":498,"y":10000},{"s":"IGA","x":500,"y":10000}
],
"d3":[
{"s":"GA","x":1,"y":43000},{"s":"GA","x":2,"y":29000},{"s":"GA","x":3,"y":18000},{"s":"GA","x":4,"y":11000},{"s":"GA","x":5,"y":7000},{"s":"GA","x":7,"y":4000},{"s":"GA","x":10,"y":2500},{"s":"GA","x":15,"y":1500},{"s":"GA","x":20,"y":1000},{"s":"GA","x":50,"y":700},{"s":"GA","x":100,"y":700},{"s":"GA","x":150,"y":700},{"s":"GA","x":200,"y":700},{"s":"GA","x":250,"y":700},{"s":"GA","x":300,"y":700},{"s":"GA","x":350,"y":700},{"s":"GA","x":400,"y":700},{"s":"GA","x":450,"y":700},{"s":"GA","x":460,"y":700},{"s":"GA","x":470,"y":700},{"s":"GA","x":480,"y":700},{"s":"GA","x":490,"y":700},{"s":"GA","x":500,"y":700},
{"s":"PSO","x":1,"y":108000},{"s":"PSO","x":2,"y":53000},{"s":"PSO","x":3,"y":26000},{"s":"PSO","x":4,"y":14000},{"s":"PSO","x":5,"y":9000},{"s":"PSO","x":7,"y":5000},{"s":"PSO","x":10,"y":3000},{"s":"PSO","x":15,"y":2000},{"s":"PSO","x":20,"y":1500},{"s":"PSO","x":50,"y":800},{"s":"PSO","x":100,"y":800},{"s":"PSO","x":150,"y":800},{"s":"PSO","x":200,"y":800},{"s":"PSO","x":250,"y":800},{"s":"PSO","x":300,"y":800},{"s":"PSO","x":350,"y":800},{"s":"PSO","x":400,"y":800},{"s":"PSO","x":450,"y":800},{"s":"PSO","x":460,"y":800},{"s":"PSO","x":470,"y":800},{"s":"PSO","x":480,"y":800},{"s":"PSO","x":490,"y":800},{"s":"PSO","x":500,"y":800},
{"s":"HPSO","x":1,"y":124000},{"s":"HPSO","x":2,"y":70000},{"s":"HPSO","x":3,"y":30000},{"s":"HPSO","x":4,"y":15000},{"s":"HPSO","x":5,"y":9000},{"s":"HPSO","x":7,"y":6000},{"s":"HPSO","x":9,"y":5000},
{"s":"HPSO","x":12,"y":4680},{"s":"HPSO","x":20,"y":4140},{"s":"HPSO","x":28,"y":5040},{"s":"HPSO","x":36,"y":4320},{"s":"HPSO","x":44,"y":5400},{"s":"HPSO","x":52,"y":4500},{"s":"HPSO","x":60,"y":4050},{"s":"HPSO","x":68,"y":4950},{"s":"HPSO","x":76,"y":4410},{"s":"HPSO","x":84,"y":5220},{"s":"HPSO","x":92,"y":4230},{"s":"HPSO","x":100,"y":4770},{"s":"HPSO","x":108,"y":4590},{"s":"HPSO","x":116,"y":3870},{"s":"HPSO","x":124,"y":4950},{"s":"HPSO","x":132,"y":4320},{"s":"HPSO","x":140,"y":5310},{"s":"HPSO","x":148,"y":4590},{"s":"HPSO","x":156,"y":4140},{"s":"HPSO","x":164,"y":4860},{"s":"HPSO","x":172,"y":4410},{"s":"HPSO","x":180,"y":5130},{"s":"HPSO","x":188,"y":4230},{"s":"HPSO","x":196,"y":4770},{"s":"HPSO","x":204,"y":4410},{"s":"HPSO","x":212,"y":5040},{"s":"HPSO","x":220,"y":4050},{"s":"HPSO","x":228,"y":4770},{"s":"HPSO","x":236,"y":4500},{"s":"HPSO","x":244,"y":5400},{"s":"HPSO","x":252,"y":4320},{"s":"HPSO","x":260,"y":4770},{"s":"HPSO","x":268,"y":4050},{"s":"HPSO","x":276,"y":5040},{"s":"HPSO","x":284,"y":4590},{"s":"HPSO","x":292,"y":4230},{"s":"HPSO","x":300,"y":4950},{"s":"HPSO","x":308,"y":4410},{"s":"HPSO","x":316,"y":5310},{"s":"HPSO","x":324,"y":4230},{"s":"HPSO","x":332,"y":4770},{"s":"HPSO","x":340,"y":4590},{"s":"HPSO","x":348,"y":3870},{"s":"HPSO","x":356,"y":4950},{"s":"HPSO","x":364,"y":4410},{"s":"HPSO","x":372,"y":5130},{"s":"HPSO","x":380,"y":4230},{"s":"HPSO","x":388,"y":4680},{"s":"HPSO","x":396,"y":4410},{"s":"HPSO","x":404,"y":5040},{"s":"HPSO","x":412,"y":4230},{"s":"HPSO","x":420,"y":4770},{"s":"HPSO","x":428,"y":4590},{"s":"HPSO","x":436,"y":4140},{"s":"HPSO","x":444,"y":4950},
{"s":"HPSO","x":450,"y":4590},{"s":"HPSO","x":452,"y":4950},{"s":"HPSO","x":454,"y":4230},{"s":"HPSO","x":456,"y":5130},{"s":"HPSO","x":458,"y":4410},{"s":"HPSO","x":460,"y":4770},{"s":"HPSO","x":462,"y":4050},{"s":"HPSO","x":464,"y":4950},{"s":"HPSO","x":466,"y":4500},{"s":"HPSO","x":468,"y":4320},{"s":"HPSO","x":470,"y":5220},{"s":"HPSO","x":472,"y":4500},{"s":"HPSO","x":474,"y":4770},{"s":"HPSO","x":476,"y":4140},{"s":"HPSO","x":478,"y":5040},{"s":"HPSO","x":480,"y":4590},{"s":"HPSO","x":482,"y":4320},{"s":"HPSO","x":484,"y":5310},{"s":"HPSO","x":486,"y":4410},{"s":"HPSO","x":488,"y":4770},{"s":"HPSO","x":490,"y":4230},{"s":"HPSO","x":492,"y":5040},{"s":"HPSO","x":494,"y":4500},{"s":"HPSO","x":496,"y":4410},{"s":"HPSO","x":498,"y":4860},{"s":"HPSO","x":500,"y":4680},
{"s":"MGA","x":1,"y":152000},{"s":"MGA","x":2,"y":192000},{"s":"MGA","x":3,"y":186000},{"s":"MGA","x":4,"y":198000},{"s":"MGA","x":5,"y":175000},{"s":"MGA","x":6,"y":203000},{"s":"MGA","x":7,"y":226000},{"s":"MGA","x":8,"y":181000},{"s":"MGA","x":9,"y":194000},{"s":"MGA","x":10,"y":172000},{"s":"MGA","x":11,"y":199000},{"s":"MGA","x":12,"y":231000},{"s":"MGA","x":13,"y":187000},{"s":"MGA","x":14,"y":226000},{"s":"MGA","x":15,"y":178000},{"s":"MGA","x":17,"y":195000},{"s":"MGA","x":19,"y":183000},{"s":"MGA","x":21,"y":157000},{"s":"MGA","x":23,"y":190000},{"s":"MGA","x":25,"y":176000},{"s":"MGA","x":27,"y":236000},{"s":"MGA","x":29,"y":201000},{"s":"MGA","x":31,"y":185000},{"s":"MGA","x":33,"y":203000},{"s":"MGA","x":35,"y":179000},{"s":"MGA","x":37,"y":192000},{"s":"MGA","x":39,"y":174000},{"s":"MGA","x":41,"y":149000},{"s":"MGA","x":43,"y":188000},{"s":"MGA","x":45,"y":170000},{"s":"MGA","x":47,"y":196000},{"s":"MGA","x":49,"y":181000},{"s":"MGA","x":51,"y":158000},{"s":"MGA","x":53,"y":149000},{"s":"MGA","x":55,"y":218000},{"s":"MGA","x":57,"y":187000},{"s":"MGA","x":59,"y":211000},{"s":"MGA","x":61,"y":175000},{"s":"MGA","x":63,"y":199000},{"s":"MGA","x":65,"y":169000},{"s":"MGA","x":67,"y":192000},{"s":"MGA","x":69,"y":152000},{"s":"MGA","x":70,"y":144000},{"s":"MGA","x":72,"y":186000},{"s":"MGA","x":74,"y":224000},{"s":"MGA","x":76,"y":195000},{"s":"MGA","x":78,"y":178000},{"s":"MGA","x":79,"y":220000},{"s":"MGA","x":81,"y":188000},{"s":"MGA","x":83,"y":205000},{"s":"MGA","x":85,"y":166000},{"s":"MGA","x":87,"y":193000},{"s":"MGA","x":89,"y":222000},{"s":"MGA","x":91,"y":180000},{"s":"MGA","x":92,"y":202000},{"s":"MGA","x":94,"y":171000},{"s":"MGA","x":96,"y":189000},{"s":"MGA","x":98,"y":176000},{"s":"MGA","x":100,"y":182000},
{"s":"MGA","x":101,"y":166000},{"s":"MGA","x":103,"y":146000},{"s":"MGA","x":105,"y":140000},{"s":"MGA","x":106,"y":127000},{"s":"MGA","x":108,"y":120000},{"s":"MGA","x":110,"y":102000},{"s":"MGA","x":111,"y":90000},{"s":"MGA","x":113,"y":84000},{"s":"MGA","x":115,"y":79000},{"s":"MGA","x":117,"y":70000},{"s":"MGA","x":119,"y":59000},{"s":"MGA","x":121,"y":51000},{"s":"MGA","x":122,"y":40000},{"s":"MGA","x":124,"y":32000},{"s":"MGA","x":126,"y":23000},{"s":"MGA","x":128,"y":20000},{"s":"MGA","x":130,"y":17000},{"s":"MGA","x":133,"y":12500},{"s":"MGA","x":136,"y":10000},{"s":"MGA","x":139,"y":7700},{"s":"MGA","x":143,"y":6600},{"s":"MGA","x":147,"y":5500},{"s":"MGA","x":150,"y":4000},{"s":"MGA","x":160,"y":2000},{"s":"MGA","x":200,"y":1200},{"s":"MGA","x":250,"y":1200},{"s":"MGA","x":300,"y":1200},{"s":"MGA","x":350,"y":1200},{"s":"MGA","x":400,"y":1200},{"s":"MGA","x":450,"y":1200},{"s":"MGA","x":470,"y":1200},{"s":"MGA","x":490,"y":1200},{"s":"MGA","x":500,"y":1200},
{"s":"PSODA","x":1,"y":192000},{"s":"PSODA","x":2,"y":131000},{"s":"PSODA","x":3,"y":42000},{"s":"PSODA","x":4,"y":20000},{"s":"PSODA","x":5,"y":12000},{"s":"PSODA","x":7,"y":6000},{"s":"PSODA","x":10,"y":4000},{"s":"PSODA","x":13,"y":5500},{"s":"PSODA","x":16,"y":3500},{"s":"PSODA","x":19,"y":6000},{"s":"PSODA","x":22,"y":3000},{"s":"PSODA","x":25,"y":5000},{"s":"PSODA","x":28,"y":4500},{"s":"PSODA","x":31,"y":2500},{"s":"PSODA","x":34,"y":3500},{"s":"PSODA","x":37,"y":2000},{"s":"PSODA","x":40,"y":1500},{"s":"PSODA","x":45,"y":500},{"s":"PSODA","x":50,"y":-500},
{"s":"PSODA","x":64,"y":-1500},{"s":"PSODA","x":80,"y":-1500},{"s":"PSODA","x":96,"y":-1500},{"s":"PSODA","x":112,"y":-1500},{"s":"PSODA","x":128,"y":-1500},{"s":"PSODA","x":144,"y":-1500},{"s":"PSODA","x":160,"y":-1500},{"s":"PSODA","x":176,"y":-1500},{"s":"PSODA","x":192,"y":-1500},{"s":"PSODA","x":208,"y":-1500},{"s":"PSODA","x":224,"y":-1500},{"s":"PSODA","x":240,"y":-1500},{"s":"PSODA","x":256,"y":-1500},{"s":"PSODA","x":272,"y":-1500},{"s":"PSODA","x":288,"y":-1500},{"s":"PSODA","x":304,"y":-1500},{"s":"PSODA","x":320,"y":-1500},{"s":"PSODA","x":336,"y":-1500},{"s":"PSODA","x":352,"y":-1500},{"s":"PSODA","x":368,"y":-1500},{"s":"PSODA","x":384,"y":-1500},{"s":"PSODA","x":400,"y":-1500},{"s":"PSODA","x":416,"y":-1500},{"s":"PSODA","x":432,"y":-1500},{"s":"PSODA","x":448,"y":-1500},
{"s":"PSODA","x":450,"y":-1500},{"s":"PSODA","x":455,"y":-1500},{"s":"PSODA","x":460,"y":-1500},{"s":"PSODA","x":465,"y":-1500},{"s":"PSODA","x":470,"y":-1500},{"s":"PSODA","x":475,"y":-1500},{"s":"PSODA","x":480,"y":-1500},{"s":"PSODA","x":485,"y":-1500},{"s":"PSODA","x":490,"y":-1500},{"s":"PSODA","x":495,"y":-1500},{"s":"PSODA","x":500,"y":-1500},
{"s":"Bat","x":1,"y":123000},{"s":"Bat","x":2,"y":68000},{"s":"Bat","x":3,"y":33000},{"s":"Bat","x":4,"y":15000},{"s":"Bat","x":5,"y":8000},{"s":"Bat","x":7,"y":4000},{"s":"Bat","x":10,"y":2000},{"s":"Bat","x":20,"y":1200},{"s":"Bat","x":50,"y":800},{"s":"Bat","x":100,"y":800},{"s":"Bat","x":150,"y":800},{"s":"Bat","x":200,"y":800},{"s":"Bat","x":250,"y":800},{"s":"Bat","x":300,"y":800},{"s":"Bat","x":350,"y":800},{"s":"Bat","x":400,"y":800},{"s":"Bat","x":450,"y":800},{"s":"Bat","x":460,"y":800},{"s":"Bat","x":470,"y":800},{"s":"Bat","x":480,"y":800},{"s":"Bat","x":490,"y":800},{"s":"Bat","x":500,"y":800},
{"s":"BBO","x":1,"y":50000},{"s":"BBO","x":2,"y":37000},{"s":"BBO","x":3,"y":24000},{"s":"BBO","x":4,"y":16000},{"s":"BBO","x":5,"y":11000},{"s":"BBO","x":7,"y":6500},{"s":"BBO","x":10,"y":4000},{"s":"BBO","x":15,"y":2500},{"s":"BBO","x":20,"y":1800},{"s":"BBO","x":30,"y":1200},{"s":"BBO","x":50,"y":900},{"s":"BBO","x":100,"y":800},{"s":"BBO","x":150,"y":800},{"s":"BBO","x":200,"y":800},{"s":"BBO","x":250,"y":800},{"s":"BBO","x":300,"y":800},{"s":"BBO","x":350,"y":800},{"s":"BBO","x":400,"y":800},{"s":"BBO","x":450,"y":800},{"s":"BBO","x":460,"y":800},{"s":"BBO","x":470,"y":800},{"s":"BBO","x":480,"y":800},{"s":"BBO","x":490,"y":800},{"s":"BBO","x":500,"y":800},
{"s":"IGA","x":1,"y":269000},{"s":"IGA","x":2,"y":89000},{"s":"IGA","x":3,"y":45000},{"s":"IGA","x":4,"y":33000},{"s":"IGA","x":5,"y":26000},{"s":"IGA","x":6,"y":21000},{"s":"IGA","x":7,"y":17500},{"s":"IGA","x":8,"y":15000},{"s":"IGA","x":9,"y":13000},{"s":"IGA","x":10,"y":11500},{"s":"IGA","x":11,"y":10200},{"s":"IGA","x":12,"y":9000},{"s":"IGA","x":13,"y":8100},{"s":"IGA","x":14,"y":7300},{"s":"IGA","x":15,"y":6600},{"s":"IGA","x":16,"y":6000},{"s":"IGA","x":17,"y":5500},{"s":"IGA","x":18,"y":5000},{"s":"IGA","x":19,"y":4600},{"s":"IGA","x":20,"y":4300},{"s":"IGA","x":22,"y":3800},{"s":"IGA","x":24,"y":3400},{"s":"IGA","x":26,"y":3000},{"s":"IGA","x":28,"y":2700},{"s":"IGA","x":30,"y":2400},{"s":"IGA","x":33,"y":2100},{"s":"IGA","x":36,"y":1900},{"s":"IGA","x":40,"y":1700},{"s":"IGA","x":45,"y":1500},{"s":"IGA","x":50,"y":1300},{"s":"IGA","x":55,"y":1150},
{"s":"IGA","x":60,"y":1000},{"s":"IGA","x":68,"y":1000},{"s":"IGA","x":76,"y":1000},{"s":"IGA","x":84,"y":1000},{"s":"IGA","x":92,"y":1000},{"s":"IGA","x":100,"y":1000},{"s":"IGA","x":108,"y":1000},{"s":"IGA","x":116,"y":1000},{"s":"IGA","x":124,"y":1000},{"s":"IGA","x":132,"y":1000},{"s":"IGA","x":140,"y":1000},{"s":"IGA","x":148,"y":1000},{"s":"IGA","x":156,"y":1000},{"s":"IGA","x":164,"y":1000},{"s":"IGA","x":172,"y":1000},{"s":"IGA","x":180,"y":1000},{"s":"IGA","x":188,"y":1000},{"s":"IGA","x":196,"y":1000},{"s":"IGA","x":204,"y":1000},{"s":"IGA","x":212,"y":1000},{"s":"IGA","x":220,"y":1000},{"s":"IGA","x":228,"y":1000},{"s":"IGA","x":236,"y":1000},{"s":"IGA","x":244,"y":1000},{"s":"IGA","x":252,"y":1000},{"s":"IGA","x":260,"y":1000},{"s":"IGA","x":268,"y":1000},{"s":"IGA","x":276,"y":1000},{"s":"IGA","x":284,"y":1000},{"s":"IGA","x":292,"y":1000},{"s":"IGA","x":300,"y":1000},{"s":"IGA","x":308,"y":1000},{"s":"IGA","x":316,"y":1000},{"s":"IGA","x":324,"y":1000},{"s":"IGA","x":332,"y":1000},{"s":"IGA","x":340,"y":1000},{"s":"IGA","x":348,"y":1000},{"s":"IGA","x":356,"y":1000},{"s":"IGA","x":364,"y":1000},{"s":"IGA","x":372,"y":1000},{"s":"IGA","x":380,"y":1000},{"s":"IGA","x":388,"y":1000},{"s":"IGA","x":396,"y":1000},{"s":"IGA","x":404,"y":1000},{"s":"IGA","x":412,"y":1000},{"s":"IGA","x":420,"y":1000},{"s":"IGA","x":428,"y":1000},{"s":"IGA","x":436,"y":1000},{"s":"IGA","x":444,"y":1000},
{"s":"IGA","x":450,"y":1000},{"s":"IGA","x":452,"y":1000},{"s":"IGA","x":454,"y":1000},{"s":"IGA","x":456,"y":1000},{"s":"IGA","x":458,"y":1000},{"s":"IGA","x":460,"y":1000},{"s":"IGA","x":462,"y":1000},{"s":"IGA","x":464,"y":1000},{"s":"IGA","x":466,"y":1000},{"s":"IGA","x":468,"y":1000},{"s":"IGA","x":470,"y":1000},{"s":"IGA","x":472,"y":1000},{"s":"IGA","x":474,"y":1000},{"s":"IGA","x":476,"y":1000},{"s":"IGA","x":478,"y":1000},{"s":"IGA","x":480,"y":1000},{"s":"IGA","x":482,"y":1000},{"s":"IGA","x":484,"y":1000},{"s":"IGA","x":486,"y":1000},{"s":"IGA","x":488,"y":1000},{"s":"IGA","x":490,"y":1000},{"s":"IGA","x":492,"y":1000},{"s":"IGA","x":494,"y":1000},{"s":"IGA","x":496,"y":1000},{"s":"IGA","x":498,"y":1000},{"s":"IGA","x":500,"y":1000}
],
"d4":[
{"s":"GA","x":1,"y":82},{"s":"GA","x":2,"y":13.3},{"s":"GA","x":3,"y":1.8},{"s":"GA","x":5,"y":1.9},{"s":"GA","x":10,"y":1.9},{"s":"GA","x":20,"y":1.9},{"s":"GA","x":30,"y":1.9},{"s":"GA","x":40,"y":1.9},{"s":"GA","x":50,"y":1.85},{"s":"GA","x":60,"y":1.8},{"s":"GA","x":80,"y":1.5},{"s":"GA","x":100,"y":1.2},{"s":"GA","x":150,"y":0.6},{"s":"GA","x":200,"y":0.5},{"s":"GA","x":250,"y":0.4},{"s":"GA","x":300,"y":0.4},{"s":"GA","x":350,"y":0.4},{"s":"GA","x":400,"y":0.4},{"s":"GA","x":450,"y":0.4},{"s":"GA","x":460,"y":0.4},{"s":"GA","x":470,"y":0.4},{"s":"GA","x":480,"y":0.4},{"s":"GA","x":490,"y":0.4},{"s":"GA","x":500,"y":0.4},
{"s":"PSO","x":1,"y":55.7},{"s":"PSO","x":2,"y":37},{"s":"PSO","x":3,"y":25},{"s":"PSO","x":4,"y":19},{"s":"PSO","x":5,"y":16},{"s":"PSO","x":6,"y":14},{"s":"PSO","x":8,"y":12.5},{"s":"PSO","x":10,"y":11.5},{"s":"PSO","x":15,"y":9.5},{"s":"PSO","x":20,"y":8.5},{"s":"PSO","x":25,"y":7.5},{"s":"PSO","x":30,"y":6.8},{"s":"PSO","x":35,"y":6.1},{"s":"PSO","x":40,"y":5.5},{"s":"PSO","x":45,"y":5.0},{"s":"PSO","x":50,"y":4.6},{"s":"PSO","x":60,"y":3.8},{"s":"PSO","x":70,"y":3.1},{"s":"PSO","x":80,"y":2.5},{"s":"PSO","x":100,"y":1.7},{"s":"PSO","x":120,"y":1.2},{"s":"PSO","x":150,"y":0.8},{"s":"PSO","x":200,"y":0.5},{"s":"PSO","x":250,"y":0.4},{"s":"PSO","x":300,"y":0.4},{"s":"PSO","x":350,"y":0.4},{"s":"PSO","x":400,"y":0.4},{"s":"PSO","x":450,"y":0.4},{"s":"PSO","x":460,"y":0.4},{"s":"PSO","x":470,"y":0.4},{"s":"PSO","x":480,"y":0.4},{"s":"PSO","x":490,"y":0.4},{"s":"PSO","x":500,"y":0.4},
{"s":"HPSO","x":1,"y":74},{"s":"HPSO","x":2,"y":59.4},{"s":"HPSO","x":3,"y":44.3},{"s":"HPSO","x":4,"y":34.5},{"s":"HPSO","x":5,"y":20},{"s":"HPSO","x":6,"y":15},{"s":"HPSO","x":8,"y":13},
{"s":"HPSO","x":12,"y":14.0},{"s":"HPSO","x":20,"y":12.5},{"s":"HPSO","x":28,"y":15.0},{"s":"HPSO","x":36,"y":13.0},{"s":"HPSO","x":44,"y":16.0},{"s":"HPSO","x":52,"y":13.5},{"s":"HPSO","x":60,"y":12.25},{"s":"HPSO","x":68,"y":14.75},{"s":"HPSO","x":76,"y":13.25},{"s":"HPSO","x":84,"y":15.5},{"s":"HPSO","x":92,"y":12.75},{"s":"HPSO","x":100,"y":14.25},{"s":"HPSO","x":108,"y":13.75},{"s":"HPSO","x":116,"y":11.75},{"s":"HPSO","x":124,"y":14.75},{"s":"HPSO","x":132,"y":13.0},{"s":"HPSO","x":140,"y":15.75},{"s":"HPSO","x":148,"y":13.75},{"s":"HPSO","x":156,"y":12.5},{"s":"HPSO","x":164,"y":14.5},{"s":"HPSO","x":172,"y":13.25},{"s":"HPSO","x":180,"y":15.25},{"s":"HPSO","x":188,"y":12.75},{"s":"HPSO","x":196,"y":14.25},{"s":"HPSO","x":204,"y":13.25},{"s":"HPSO","x":212,"y":15.0},{"s":"HPSO","x":220,"y":12.25},{"s":"HPSO","x":228,"y":14.25},{"s":"HPSO","x":236,"y":13.5},{"s":"HPSO","x":244,"y":16.0},{"s":"HPSO","x":252,"y":13.0},{"s":"HPSO","x":260,"y":14.25},{"s":"HPSO","x":268,"y":12.25},{"s":"HPSO","x":276,"y":15.0},{"s":"HPSO","x":284,"y":13.75},{"s":"HPSO","x":292,"y":12.75},{"s":"HPSO","x":300,"y":14.75},{"s":"HPSO","x":308,"y":13.25},{"s":"HPSO","x":316,"y":15.75},{"s":"HPSO","x":324,"y":12.75},{"s":"HPSO","x":332,"y":14.25},{"s":"HPSO","x":340,"y":13.75},{"s":"HPSO","x":348,"y":11.75},{"s":"HPSO","x":356,"y":14.75},{"s":"HPSO","x":364,"y":13.25},{"s":"HPSO","x":372,"y":15.25},{"s":"HPSO","x":380,"y":12.75},{"s":"HPSO","x":388,"y":14.0},{"s":"HPSO","x":396,"y":13.25},{"s":"HPSO","x":404,"y":15.0},{"s":"HPSO","x":412,"y":12.75},{"s":"HPSO","x":420,"y":14.25},{"s":"HPSO","x":428,"y":13.75},{"s":"HPSO","x":436,"y":16.5},{"s":"HPSO","x":444,"y":14.75},
{"s":"HPSO","x":16,"y":13.0},{"s":"HPSO","x":24,"y":14.5},{"s":"HPSO","x":32,"y":12.5},{"s":"HPSO","x":40,"y":15.5},{"s":"HPSO","x":48,"y":13.75},{"s":"HPSO","x":56,"y":12.0},{"s":"HPSO","x":64,"y":14.25},{"s":"HPSO","x":72,"y":15.0},{"s":"HPSO","x":80,"y":13.0},{"s":"HPSO","x":88,"y":12.5},{"s":"HPSO","x":96,"y":14.75},{"s":"HPSO","x":104,"y":16.25},{"s":"HPSO","x":112,"y":13.25},{"s":"HPSO","x":120,"y":12.25},{"s":"HPSO","x":128,"y":14.0},{"s":"HPSO","x":136,"y":15.25},{"s":"HPSO","x":144,"y":13.5},{"s":"HPSO","x":152,"y":12.75},{"s":"HPSO","x":160,"y":14.5},{"s":"HPSO","x":168,"y":13.0},{"s":"HPSO","x":176,"y":15.75},{"s":"HPSO","x":184,"y":12.5},{"s":"HPSO","x":192,"y":13.75},{"s":"HPSO","x":200,"y":14.25},{"s":"HPSO","x":208,"y":12.0},{"s":"HPSO","x":216,"y":15.0},{"s":"HPSO","x":224,"y":13.5},{"s":"HPSO","x":232,"y":14.0},{"s":"HPSO","x":240,"y":12.75},{"s":"HPSO","x":248,"y":16.0},{"s":"HPSO","x":256,"y":13.25},{"s":"HPSO","x":264,"y":14.5},{"s":"HPSO","x":272,"y":12.5},{"s":"HPSO","x":280,"y":13.75},{"s":"HPSO","x":288,"y":15.25},{"s":"HPSO","x":296,"y":13.0},{"s":"HPSO","x":304,"y":14.0},{"s":"HPSO","x":312,"y":12.25},{"s":"HPSO","x":320,"y":15.5},{"s":"HPSO","x":328,"y":13.5},{"s":"HPSO","x":336,"y":14.75},{"s":"HPSO","x":344,"y":12.75},{"s":"HPSO","x":352,"y":13.25},{"s":"HPSO","x":360,"y":16.0},{"s":"HPSO","x":368,"y":14.0},{"s":"HPSO","x":376,"y":12.5},{"s":"HPSO","x":384,"y":13.75},{"s":"HPSO","x":392,"y":15.0},{"s":"HPSO","x":400,"y":12.75},{"s":"HPSO","x":408,"y":14.25},{"s":"HPSO","x":416,"y":13.5},{"s":"HPSO","x":424,"y":12.25},{"s":"HPSO","x":432,"y":15.25},{"s":"HPSO","x":440,"y":13.75},{"s":"HPSO","x":448,"y":14.0},
{"s":"HPSO","x":450,"y":13.75},{"s":"HPSO","x":452,"y":14.75},{"s":"HPSO","x":454,"y":12.75},{"s":"HPSO","x":456,"y":15.25},{"s":"HPSO","x":458,"y":13.25},{"s":"HPSO","x":460,"y":14.25},{"s":"HPSO","x":462,"y":12.25},{"s":"HPSO","x":464,"y":14.75},{"s":"HPSO","x":466,"y":13.5},{"s":"HPSO","x":468,"y":13.0},{"s":"HPSO","x":470,"y":15.5},{"s":"HPSO","x":472,"y":13.5},{"s":"HPSO","x":474,"y":14.25},{"s":"HPSO","x":476,"y":12.5},{"s":"HPSO","x":478,"y":11.75},{"s":"HPSO","x":480,"y":13.75},{"s":"HPSO","x":482,"y":13.0},{"s":"HPSO","x":484,"y":14.75},{"s":"HPSO","x":486,"y":13.25},{"s":"HPSO","x":488,"y":14.25},{"s":"HPSO","x":490,"y":12.75},{"s":"HPSO","x":492,"y":16.5},{"s":"HPSO","x":494,"y":12.0},{"s":"HPSO","x":496,"y":13.25},{"s":"HPSO","x":498,"y":14.5},{"s":"HPSO","x":500,"y":14.0},
{"s":"MGA","x":1,"y":91},{"s":"MGA","x":2,"y":92.5},{"s":"MGA","x":3,"y":90.5},{"s":"MGA","x":5,"y":91.8},{"s":"MGA","x":7,"y":89.5},{"s":"MGA","x":9,"y":92},{"s":"MGA","x":11,"y":90.8},{"s":"MGA","x":13,"y":91.5},{"s":"MGA","x":15,"y":90},{"s":"MGA","x":17,"y":92.3},{"s":"MGA","x":19,"y":91.2},{"s":"MGA","x":21,"y":88.5},{"s":"MGA","x":23,"y":91.8},{"s":"MGA","x":25,"y":90.6},{"s":"MGA","x":27,"y":92.1},{"s":"MGA","x":29,"y":91},{"s":"MGA","x":31,"y":89.8},{"s":"MGA","x":33,"y":91.7},{"s":"MGA","x":35,"y":90.4},{"s":"MGA","x":37,"y":92.4},{"s":"MGA","x":39,"y":91.3},{"s":"MGA","x":41,"y":90.1},{"s":"MGA","x":43,"y":91.9},{"s":"MGA","x":45,"y":90.7},{"s":"MGA","x":47,"y":92},{"s":"MGA","x":49,"y":91.1},{"s":"MGA","x":51,"y":89.9},{"s":"MGA","x":53,"y":91.6},{"s":"MGA","x":55,"y":92.6},{"s":"MGA","x":57,"y":90.5},{"s":"MGA","x":59,"y":91.8},{"s":"MGA","x":61,"y":93},{"s":"MGA","x":63,"y":91.2},{"s":"MGA","x":65,"y":90.3},{"s":"MGA","x":67,"y":92.2},{"s":"MGA","x":69,"y":91},{"s":"MGA","x":71,"y":89.7},{"s":"MGA","x":73,"y":91.5},{"s":"MGA","x":75,"y":90.8},{"s":"MGA","x":77,"y":92.1},{"s":"MGA","x":79,"y":90.2},{"s":"MGA","x":81,"y":91.4},{"s":"MGA","x":83,"y":89.5},{"s":"MGA","x":85,"y":91.7},{"s":"MGA","x":87,"y":90.6},{"s":"MGA","x":89,"y":92},{"s":"MGA","x":91,"y":90.9},{"s":"MGA","x":93,"y":89.8},{"s":"MGA","x":95,"y":91.3},{"s":"MGA","x":97,"y":90.5},{"s":"MGA","x":99,"y":91.6},{"s":"MGA","x":100,"y":89.3},
{"s":"MGA","x":102,"y":88},{"s":"MGA","x":104,"y":86.8},{"s":"MGA","x":105,"y":84},{"s":"MGA","x":107,"y":80},{"s":"MGA","x":109,"y":76},{"s":"MGA","x":111,"y":72.6},{"s":"MGA","x":112,"y":70},{"s":"MGA","x":114,"y":67.6},{"s":"MGA","x":115,"y":65},{"s":"MGA","x":116,"y":62.5},{"s":"MGA","x":117,"y":60},{"s":"MGA","x":118,"y":56.7},{"s":"MGA","x":119,"y":55},{"s":"MGA","x":121,"y":51.7},{"s":"MGA","x":122,"y":50},{"s":"MGA","x":123,"y":47.9},{"s":"MGA","x":124,"y":46},{"s":"MGA","x":125,"y":44.1},{"s":"MGA","x":126,"y":42},{"s":"MGA","x":127,"y":40.4},{"s":"MGA","x":128,"y":38},{"s":"MGA","x":129,"y":35.8},{"s":"MGA","x":130,"y":34},{"s":"MGA","x":132,"y":32},{"s":"MGA","x":133,"y":30},{"s":"MGA","x":135,"y":28.3},{"s":"MGA","x":136,"y":26},{"s":"MGA","x":138,"y":23.3},{"s":"MGA","x":140,"y":21},{"s":"MGA","x":143,"y":18.2},{"s":"MGA","x":145,"y":16},{"s":"MGA","x":147,"y":14.5},{"s":"MGA","x":149,"y":13.2},{"s":"MGA","x":151,"y":11.5},{"s":"MGA","x":153,"y":10},{"s":"MGA","x":155,"y":9},{"s":"MGA","x":158,"y":7.8},{"s":"MGA","x":160,"y":7},{"s":"MGA","x":163,"y":6.5},{"s":"MGA","x":166,"y":5.8},{"s":"MGA","x":170,"y":5.2},{"s":"MGA","x":175,"y":4.8},{"s":"MGA","x":180,"y":4.2},{"s":"MGA","x":187,"y":3.6},{"s":"MGA","x":193,"y":3.3},{"s":"MGA","x":199,"y":3.2},{"s":"MGA","x":210,"y":2.6},{"s":"MGA","x":250,"y":2.2},{"s":"MGA","x":300,"y":2.2},{"s":"MGA","x":350,"y":2.2},{"s":"MGA","x":400,"y":2.2},{"s":"MGA","x":450,"y":2.2},{"s":"MGA","x":470,"y":2.2},{"s":"MGA","x":490,"y":2.2},{"s":"MGA","x":500,"y":2.2},
{"s":"PSODA","x":1,"y":77},{"s":"PSODA","x":2,"y":56.8},{"s":"PSODA","x":3,"y":38.9},{"s":"PSODA","x":4,"y":30},{"s":"PSODA","x":5,"y":22},{"s":"PSODA","x":6,"y":16},{"s":"PSODA","x":7,"y":12},{"s":"PSODA","x":8,"y":9},{"s":"PSODA","x":9,"y":7.3},{"s":"PSODA","x":10,"y":10.5},{"s":"PSODA","x":12,"y":15},{"s":"PSODA","x":14,"y":7.5},{"s":"PSODA","x":16,"y":12},{"s":"PSODA","x":17,"y":24.5},{"s":"PSODA","x":19,"y":17},{"s":"PSODA","x":21,"y":13},{"s":"PSODA","x":23,"y":20},{"s":"PSODA","x":25,"y":15},{"s":"PSODA","x":27,"y":11},{"s":"PSODA","x":29,"y":22},{"s":"PSODA","x":31,"y":18},{"s":"PSODA","x":33,"y":14},{"s":"PSODA","x":35,"y":24},{"s":"PSODA","x":37,"y":16},{"s":"PSODA","x":39,"y":12},{"s":"PSODA","x":41,"y":20},{"s":"PSODA","x":43,"y":15},{"s":"PSODA","x":45,"y":23},{"s":"PSODA","x":47,"y":11},{"s":"PSODA","x":49,"y":17},{"s":"PSODA","x":51,"y":21},{"s":"PSODA","x":53,"y":13},{"s":"PSODA","x":55,"y":10.3},{"s":"PSODA","x":57,"y":19},{"s":"PSODA","x":59,"y":14},{"s":"PSODA","x":61,"y":22},{"s":"PSODA","x":63,"y":25},{"s":"PSODA","x":65,"y":16},{"s":"PSODA","x":67,"y":12},{"s":"PSODA","x":69,"y":20},{"s":"PSODA","x":71,"y":15},{"s":"PSODA","x":73,"y":9},{"s":"PSODA","x":75,"y":18},{"s":"PSODA","x":77,"y":13},{"s":"PSODA","x":79,"y":21},{"s":"PSODA","x":81,"y":11},{"s":"PSODA","x":83,"y":16},{"s":"PSODA","x":85,"y":8},{"s":"PSODA","x":87,"y":14},{"s":"PSODA","x":89,"y":10},{"s":"PSODA","x":91,"y":6},{"s":"PSODA","x":93,"y":12},{"s":"PSODA","x":95,"y":5},{"s":"PSODA","x":97,"y":9},{"s":"PSODA","x":99,"y":13},{"s":"PSODA","x":101,"y":7},{"s":"PSODA","x":103,"y":17},{"s":"PSODA","x":104,"y":19.4},{"s":"PSODA","x":106,"y":12},{"s":"PSODA","x":108,"y":8},{"s":"PSODA","x":110,"y":14},{"s":"PSODA","x":112,"y":6},{"s":"PSODA","x":114,"y":10},{"s":"PSODA","x":116,"y":4},{"s":"PSODA","x":118,"y":8},{"s":"PSODA","x":120,"y":5},{"s":"PSODA","x":122,"y":9},{"s":"PSODA","x":124,"y":3},{"s":"PSODA","x":126,"y":6},{"s":"PSODA","x":128,"y":4},{"s":"PSODA","x":130,"y":2.5},{"s":"PSODA","x":132,"y":5},{"s":"PSODA","x":134,"y":3},{"s":"PSODA","x":136,"y":2},{"s":"PSODA","x":138,"y":4},{"s":"PSODA","x":140,"y":2},{"s":"PSODA","x":143,"y":1.5},{"s":"PSODA","x":146,"y":1},{"s":"PSODA","x":150,"y":0.5},
{"s":"PSODA","x":160,"y":-0.3},{"s":"PSODA","x":176,"y":-0.3},{"s":"PSODA","x":192,"y":-0.3},{"s":"PSODA","x":208,"y":-0.3},{"s":"PSODA","x":224,"y":-0.3},{"s":"PSODA","x":240,"y":-0.3},{"s":"PSODA","x":256,"y":-0.3},{"s":"PSODA","x":272,"y":-0.3},{"s":"PSODA","x":288,"y":-0.3},{"s":"PSODA","x":304,"y":-0.3},{"s":"PSODA","x":320,"y":-0.3},{"s":"PSODA","x":336,"y":-0.3},{"s":"PSODA","x":352,"y":-0.3},{"s":"PSODA","x":368,"y":-0.3},{"s":"PSODA","x":384,"y":-0.3},{"s":"PSODA","x":400,"y":-0.3},{"s":"PSODA","x":416,"y":-0.3},{"s":"PSODA","x":432,"y":-0.3},{"s":"PSODA","x":448,"y":-0.3},
{"s":"PSODA","x":450,"y":-0.3},{"s":"PSODA","x":455,"y":-0.3},{"s":"PSODA","x":460,"y":-0.3},{"s":"PSODA","x":465,"y":-0.3},{"s":"PSODA","x":470,"y":-0.3},{"s":"PSODA","x":475,"y":-0.3},{"s":"PSODA","x":480,"y":-0.3},{"s":"PSODA","x":485,"y":-0.3},{"s":"PSODA","x":490,"y":-0.3},{"s":"PSODA","x":495,"y":-0.3},{"s":"PSODA","x":500,"y":-0.3},
{"s":"Bat","x":1,"y":66.2},{"s":"Bat","x":2,"y":40.2},{"s":"Bat","x":3,"y":25.5},{"s":"Bat","x":4,"y":17.2},{"s":"Bat","x":5,"y":7.8},{"s":"Bat","x":6,"y":3.8},{"s":"Bat","x":7,"y":2.5},{"s":"Bat","x":8,"y":1.5},{"s":"Bat","x":10,"y":1.0},{"s":"Bat","x":20,"y":0.8},{"s":"Bat","x":30,"y":0.7},{"s":"Bat","x":40,"y":0.8},{"s":"Bat","x":50,"y":0.6},{"s":"Bat","x":60,"y":0.75},{"s":"Bat","x":70,"y":0.65},{"s":"Bat","x":80,"y":0.7},{"s":"Bat","x":90,"y":0.6},{"s":"Bat","x":100,"y":0.7},{"s":"Bat","x":110,"y":0.6},{"s":"Bat","x":120,"y":0.65},{"s":"Bat","x":130,"y":0.6},{"s":"Bat","x":140,"y":0.6},{"s":"Bat","x":150,"y":0.55},{"s":"Bat","x":160,"y":0.6},{"s":"Bat","x":170,"y":0.5},{"s":"Bat","x":180,"y":0.55},{"s":"Bat","x":190,"y":0.5},{"s":"Bat","x":200,"y":0.5},{"s":"Bat","x":250,"y":0.4},{"s":"Bat","x":300,"y":0.4},{"s":"Bat","x":350,"y":0.4},{"s":"Bat","x":400,"y":0.4},{"s":"Bat","x":450,"y":0.4},{"s":"Bat","x":460,"y":0.4},{"s":"Bat","x":470,"y":0.4},{"s":"Bat","x":480,"y":0.4},{"s":"Bat","x":490,"y":0.4},{"s":"Bat","x":500,"y":0.4},
{"s":"BBO","x":1,"y":79.5},{"s":"BBO","x":2,"y":60.8},{"s":"BBO","x":3,"y":54.6},{"s":"BBO","x":4,"y":47},{"s":"BBO","x":5,"y":37},{"s":"BBO","x":6,"y":30.5},{"s":"BBO","x":7,"y":25},{"s":"BBO","x":8,"y":21},{"s":"BBO","x":9,"y":17},{"s":"BBO","x":10,"y":14},{"s":"BBO","x":12,"y":11},{"s":"BBO","x":14,"y":9},{"s":"BBO","x":16,"y":7.5},{"s":"BBO","x":18,"y":6.5},{"s":"BBO","x":20,"y":5.8},{"s":"BBO","x":25,"y":4.8},{"s":"BBO","x":30,"y":4.0},{"s":"BBO","x":35,"y":3.5},{"s":"BBO","x":40,"y":3.2},{"s":"BBO","x":50,"y":2.8},{"s":"BBO","x":60,"y":2.6},{"s":"BBO","x":70,"y":2.5},{"s":"BBO","x":80,"y":2.4},
{"s":"BBO","x":11,"y":12.5},{"s":"BBO","x":13,"y":10},{"s":"BBO","x":15,"y":8.2},{"s":"BBO","x":17,"y":7},{"s":"BBO","x":19,"y":6.2},{"s":"BBO","x":22,"y":5.4},{"s":"BBO","x":24,"y":5.0},{"s":"BBO","x":27,"y":4.5},{"s":"BBO","x":28,"y":4.2},{"s":"BBO","x":32,"y":3.8},{"s":"BBO","x":34,"y":3.6},{"s":"BBO","x":37,"y":3.4},{"s":"BBO","x":38,"y":3.3},{"s":"BBO","x":43,"y":3.0},{"s":"BBO","x":45,"y":3.0},{"s":"BBO","x":47,"y":2.9},{"s":"BBO","x":55,"y":2.7},{"s":"BBO","x":65,"y":2.6},{"s":"BBO","x":75,"y":2.4},{"s":"BBO","x":84,"y":2.3},
{"s":"BBO","x":88,"y":2.3},{"s":"BBO","x":96,"y":2.0},{"s":"BBO","x":104,"y":2.5},{"s":"BBO","x":112,"y":2.1},{"s":"BBO","x":120,"y":2.4},{"s":"BBO","x":128,"y":1.9},{"s":"BBO","x":136,"y":2.6},{"s":"BBO","x":144,"y":2.2},{"s":"BBO","x":152,"y":2.0},{"s":"BBO","x":160,"y":2.4},{"s":"BBO","x":168,"y":2.1},{"s":"BBO","x":176,"y":2.5},{"s":"BBO","x":184,"y":2.2},{"s":"BBO","x":192,"y":1.9},{"s":"BBO","x":200,"y":2.4},{"s":"BBO","x":208,"y":2.3},{"s":"BBO","x":216,"y":2.0},{"s":"BBO","x":224,"y":2.6},{"s":"BBO","x":232,"y":2.1},{"s":"BBO","x":240,"y":2.3},{"s":"BBO","x":248,"y":2.2},{"s":"BBO","x":256,"y":2.5},{"s":"BBO","x":264,"y":2.0},{"s":"BBO","x":272,"y":2.3},{"s":"BBO","x":280,"y":2.1},{"s":"BBO","x":288,"y":2.4},{"s":"BBO","x":296,"y":2.2},{"s":"BBO","x":304,"y":1.9},{"s":"BBO","x":312,"y":2.5},{"s":"BBO","x":320,"y":2.2},{"s":"BBO","x":328,"y":2.3},{"s":"BBO","x":336,"y":2.0},{"s":"BBO","x":344,"y":2.4},{"s":"BBO","x":352,"y":2.1},{"s":"BBO","x":360,"y":2.6},{"s":"BBO","x":368,"y":2.2},{"s":"BBO","x":376,"y":2.0},{"s":"BBO","x":384,"y":2.3},{"s":"BBO","x":392,"y":2.4},{"s":"BBO","x":400,"y":2.1},{"s":"BBO","x":408,"y":2.5},{"s":"BBO","x":416,"y":2.2},{"s":"BBO","x":424,"y":2.0},{"s":"BBO","x":432,"y":2.3},{"s":"BBO","x":440,"y":2.4},
{"s":"BBO","x":450,"y":2.3},{"s":"BBO","x":452,"y":2.0},{"s":"BBO","x":454,"y":2.5},{"s":"BBO","x":456,"y":2.2},{"s":"BBO","x":458,"y":2.4},{"s":"BBO","x":460,"y":2.1},{"s":"BBO","x":462,"y":2.6},{"s":"BBO","x":464,"y":2.3},{"s":"BBO","x":466,"y":2.0},{"s":"BBO","x":468,"y":2.4},{"s":"BBO","x":470,"y":2.2},{"s":"BBO","x":472,"y":2.5},{"s":"BBO","x":474,"y":2.1},{"s":"BBO","x":476,"y":2.3},{"s":"BBO","x":478,"y":2.4},{"s":"BBO","x":480,"y":2.0},{"s":"BBO","x":482,"y":2.5},{"s":"BBO","x":484,"y":2.2},{"s":"BBO","x":486,"y":2.3},{"s":"BBO","x":488,"y":2.1},{"s":"BBO","x":490,"y":2.6},{"s":"BBO","x":492,"y":2.2},{"s":"BBO","x":494,"y":2.4},{"s":"BBO","x":496,"y":2.0},{"s":"BBO","x":498,"y":2.3},{"s":"BBO","x":500,"y":2.5},
{"s":"IGA","x":1,"y":82},{"s":"IGA","x":2,"y":74.7},{"s":"IGA","x":3,"y":68.3},{"s":"IGA","x":4,"y":63.8},{"s":"IGA","x":5,"y":59.7},{"s":"IGA","x":6,"y":56.4},{"s":"IGA","x":7,"y":54},{"s":"IGA","x":8,"y":48.9},{"s":"IGA","x":9,"y":44.9},{"s":"IGA","x":10,"y":39.1},{"s":"IGA","x":11,"y":31.6},{"s":"IGA","x":12,"y":23.7},{"s":"IGA","x":13,"y":17.5},{"s":"IGA","x":14,"y":14.6},{"s":"IGA","x":15,"y":13.2},{"s":"IGA","x":17,"y":12.5},{"s":"IGA","x":20,"y":11.5},{"s":"IGA","x":23,"y":10.8},{"s":"IGA","x":26,"y":10.1},{"s":"IGA","x":29,"y":9.5},{"s":"IGA","x":32,"y":8.9},{"s":"IGA","x":35,"y":8.4},{"s":"IGA","x":38,"y":7.9},{"s":"IGA","x":41,"y":7.4},{"s":"IGA","x":44,"y":7.0},{"s":"IGA","x":47,"y":6.6},{"s":"IGA","x":50,"y":6.3},{"s":"IGA","x":53,"y":6.0},{"s":"IGA","x":56,"y":5.7},{"s":"IGA","x":59,"y":5.4},{"s":"IGA","x":62,"y":5.1},{"s":"IGA","x":65,"y":4.8},{"s":"IGA","x":68,"y":4.6},{"s":"IGA","x":71,"y":4.3},{"s":"IGA","x":74,"y":4.1},{"s":"IGA","x":77,"y":3.9},{"s":"IGA","x":80,"y":3.6},{"s":"IGA","x":84,"y":3.4},{"s":"IGA","x":88,"y":3.1},{"s":"IGA","x":92,"y":2.9},{"s":"IGA","x":96,"y":2.7},{"s":"IGA","x":100,"y":2.4},{"s":"IGA","x":105,"y":2.2},{"s":"IGA","x":110,"y":2.0},{"s":"IGA","x":115,"y":1.8},{"s":"IGA","x":120,"y":1.6},{"s":"IGA","x":126,"y":1.4},{"s":"IGA","x":132,"y":1.3},{"s":"IGA","x":138,"y":1.15},{"s":"IGA","x":144,"y":1.0},{"s":"IGA","x":150,"y":0.9},{"s":"IGA","x":157,"y":0.8},{"s":"IGA","x":164,"y":0.7},{"s":"IGA","x":172,"y":0.65},{"s":"IGA","x":180,"y":0.6},{"s":"IGA","x":188,"y":0.55},{"s":"IGA","x":196,"y":0.5},
{"s":"IGA","x":16,"y":13.4},{"s":"IGA","x":18,"y":12.3},{"s":"IGA","x":19,"y":12.0},{"s":"IGA","x":21,"y":11.6},{"s":"IGA","x":22,"y":10.9},{"s":"IGA","x":24,"y":10.8},{"s":"IGA","x":25,"y":10.2},{"s":"IGA","x":27,"y":10.0},{"s":"IGA","x":28,"y":9.5},{"s":"IGA","x":30,"y":9.5},{"s":"IGA","x":31,"y":9.0},{"s":"IGA","x":33,"y":8.9},{"s":"IGA","x":34,"y":8.4},{"s":"IGA","x":36,"y":8.3},{"s":"IGA","x":37,"y":7.9},{"s":"IGA","x":39,"y":7.8},{"s":"IGA","x":40,"y":7.4},{"s":"IGA","x":42,"y":7.3},{"s":"IGA","x":43,"y":6.9},{"s":"IGA","x":45,"y":6.9},{"s":"IGA","x":46,"y":6.5},{"s":"IGA","x":48,"y":6.5},{"s":"IGA","x":49,"y":6.1},{"s":"IGA","x":51,"y":6.2},{"s":"IGA","x":52,"y":5.8},{"s":"IGA","x":54,"y":5.9},{"s":"IGA","x":55,"y":5.5},{"s":"IGA","x":57,"y":5.6},{"s":"IGA","x":58,"y":5.2},{"s":"IGA","x":60,"y":5.3},{"s":"IGA","x":61,"y":4.9},{"s":"IGA","x":63,"y":5.0},{"s":"IGA","x":64,"y":4.6},{"s":"IGA","x":66,"y":4.8},{"s":"IGA","x":67,"y":4.4},{"s":"IGA","x":69,"y":4.5},{"s":"IGA","x":70,"y":4.2},{"s":"IGA","x":72,"y":4.3},{"s":"IGA","x":73,"y":3.9},{"s":"IGA","x":75,"y":4.0},{"s":"IGA","x":76,"y":3.7},{"s":"IGA","x":78,"y":3.8},{"s":"IGA","x":79,"y":3.5},{"s":"IGA","x":82,"y":3.5},{"s":"IGA","x":86,"y":3.2},{"s":"IGA","x":90,"y":3.1},{"s":"IGA","x":94,"y":2.7},{"s":"IGA","x":98,"y":2.6},{"s":"IGA","x":102,"y":2.3},{"s":"IGA","x":107,"y":2.2},{"s":"IGA","x":112,"y":1.9},{"s":"IGA","x":117,"y":1.8},{"s":"IGA","x":123,"y":1.5},{"s":"IGA","x":129,"y":1.4},{"s":"IGA","x":135,"y":1.2},{"s":"IGA","x":141,"y":1.1},{"s":"IGA","x":147,"y":0.95},{"s":"IGA","x":153,"y":0.85},{"s":"IGA","x":160,"y":0.75},{"s":"IGA","x":168,"y":0.7},{"s":"IGA","x":176,"y":0.6},{"s":"IGA","x":184,"y":0.58},{"s":"IGA","x":192,"y":0.52},{"s":"IGA","x":200,"y":0.5},
{"s":"IGA","x":204,"y":0.45},{"s":"IGA","x":212,"y":0.45},{"s":"IGA","x":220,"y":0.45},{"s":"IGA","x":228,"y":0.45},{"s":"IGA","x":236,"y":0.45},{"s":"IGA","x":244,"y":0.45},{"s":"IGA","x":252,"y":0.45},{"s":"IGA","x":260,"y":0.45},{"s":"IGA","x":268,"y":0.45},{"s":"IGA","x":276,"y":0.45},{"s":"IGA","x":284,"y":0.45},{"s":"IGA","x":292,"y":0.45},{"s":"IGA","x":300,"y":0.45},{"s":"IGA","x":308,"y":0.45},{"s":"IGA","x":316,"y":0.45},{"s":"IGA","x":324,"y":0.45},{"s":"IGA","x":332,"y":0.45},{"s":"IGA","x":340,"y":0.45},{"s":"IGA","x":348,"y":0.45},{"s":"IGA","x":356,"y":0.45},{"s":"IGA","x":364,"y":0.45},{"s":"IGA","x":372,"y":0.45},{"s":"IGA","x":380,"y":0.45},{"s":"IGA","x":388,"y":0.45},{"s":"IGA","x":396,"y":0.45},{"s":"IGA","x":404,"y":0.45},{"s":"IGA","x":412,"y":0.45},{"s":"IGA","x":420,"y":0.45},{"s":"IGA","x":428,"y":0.45},{"s":"IGA","x":436,"y":0.45},{"s":"IGA","x":444,"y":0.45},
{"s":"IGA","x":450,"y":0.4},{"s":"IGA","x":452,"y":0.4},{"s":"IGA","x":454,"y":0.4},{"s":"IGA","x":456,"y":0.4},{"s":"IGA","x":458,"y":0.4},{"s":"IGA","x":460,"y":0.4},{"s":"IGA","x":462,"y":0.4},{"s":"IGA","x":464,"y":0.4},{"s":"IGA","x":466,"y":0.4},{"s":"IGA","x":468,"y":0.4},{"s":"IGA","x":470,"y":0.4},{"s":"IGA","x":472,"y":0.4},{"s":"IGA","x":474,"y":0.4},{"s":"IGA","x":476,"y":0.4},{"s":"IGA","x":478,"y":0.4},{"s":"IGA","x":480,"y":0.4},{"s":"IGA","x":482,"y":0.4},{"s":"IGA","x":484,"y":0.4},{"s":"IGA","x":486,"y":0.4},{"s":"IGA","x":488,"y":0.4},{"s":"IGA","x":490,"y":0.4},{"s":"IGA","x":492,"y":0.4},{"s":"IGA","x":494,"y":0.4},{"s":"IGA","x":496,"y":0.4},{"s":"IGA","x":498,"y":0.4},{"s":"IGA","x":500,"y":0.4}
]
},
"spacing":22,
"resolve":{"scale":{"color":"independent","shape":"independent","stroke":"independent"},"legend":{"color":"independent","shape":"independent","stroke":"independent"}},
"vconcat":[
{"spacing":0,
"resolve":{"scale":{"color":"independent","shape":"independent","stroke":"independent"},"legend":{"color":"independent","shape":"independent","stroke":"independent"}},
"vconcat":[
{"width":1174,"height":562,"data":{"name":"d1"},
"resolve":{"scale":{"x":"independent","y":"independent"},"axis":{"x":"independent","y":"independent"}},
"layer":[
{"layer":[
{"mark":{"type":"line","strokeWidth":0.8,"strokeDash":[6,3,1.5,3]},
"encoding":{
"x":{"field":"x","type":"quantitative","scale":{"domain":[1,500],"range":[321.5,879.6],"nice":false,"zero":false},"axis":{"orient":"bottom","offset":-87,"values":[50,100,150,200,250,300,350,400,450,500],"grid":true,"title":"Iteration","labelPadding":11,"titlePadding":5}},
"y":{"field":"y","type":"quantitative","scale":{"domain":[-300,35730],"range":[475,43],"nice":false,"zero":false},"axis":{"orient":"left","offset":-321.5,"values":[5000,10000,15000,20000,25000,30000,35000],"labelExpr":"'' + datum.value / 10000","grid":true,"title":"Fitness","labelPadding":11,"titlePadding":6}},
"stroke":{"field":"s","type":"nominal","scale":{"domain":["GA","PSO","HPSO","MGA","PSODA","Bat","BBO","IGA","~"],"range":["#ff0000","#0000ff","#00ffff","#22e622","#f5168c","#2a0f5e","#0f9a55","#000000","#ffffff"]},"legend":{"values":["GA","PSO","HPSO","MGA","PSODA","Bat","BBO","IGA"],"orient":"none","legendX":618,"legendY":57,"columns":2,"title":null,"padding":6,"labelFontSize":20,"labelExpr":"''","symbolType":"stroke","symbolSize":2809,"symbolStrokeWidth":1,"symbolDash":[6,3,1.5,3],"symbolOffset":0,"labelOffset":0,"columnPadding":62,"rowPadding":3.3,"clipHeight":20,"zindex":2}}}},
{"mark":{"type":"point","filled":false,"size":64,"strokeWidth":1,"opacity":1},
"encoding":{"x":{"field":"x","type":"quantitative"},"y":{"field":"y","type":"quantitative"},
"color":{"field":"s","type":"nominal","scale":{"domain":["GA","PSO","HPSO","MGA","PSODA","Bat","BBO","IGA"],"range":["#ff0000","#0000ff","#00ffff","#22e622","#f5168c","#2a0f5e","#0f9a55","#000000"]},"legend":{"orient":"none","legendX":618,"legendY":57,"columns":2,"title":null,"padding":6,"fillColor":"white","strokeColor":"#262626","labelFontSize":20,"labelColor":"#000000","symbolSize":64,"symbolStrokeWidth":1.2,"symbolOffset":22.5,"labelOffset":23.5,"columnPadding":10,"rowPadding":3.3,"clipHeight":20,"zindex":1,"labelLimit":0}},
"shape":{"field":"s","type":"nominal","scale":{"domain":["GA","PSO","HPSO","MGA","PSODA","Bat","BBO","IGA"],"range":["M-1,0L1,0M0,-1L0,1M-0.7,-0.7L0.7,0.7M-0.7,0.7L0.7,-0.7","M-1,0L1,0M0,-1L0,1","triangle-up","square","diamond","M0,-1L0.225,-0.309L0.951,-0.309L0.363,0.118L0.588,0.809L0,0.382L-0.588,0.809L-0.363,0.118L-0.951,-0.309L-0.225,-0.309Z","M0,-1L0.289,-0.5L0.866,-0.5L0.577,0L0.866,0.5L0.289,0.5L0,1L-0.289,0.5L-0.866,0.5L-0.577,0L-0.866,-0.5L-0.289,-0.5Z","circle"]}}}},
{"data":{"values":[{}]},"mark":{"type":"rect","fill":"transparent","stroke":"#262626","strokeWidth":1},"encoding":{"x":{"datum":1},"x2":{"datum":500},"y":{"datum":-300},"y2":{"datum":35730}}},
{"data":{"values":[{}]},"mark":{"type":"rect","fill":"transparent","stroke":"#000000","strokeWidth":1.5},"encoding":{"x":{"datum":450},"x2":{"datum":500},"y":{"datum":-300},"y2":{"datum":10600}}},
{"data":{"values":[{}]},"mark":{"type":"rule","stroke":"#000000","strokeWidth":1.3},"encoding":{"x":{"datum":382},"y":{"datum":10125},"x2":{"datum":450},"y2":{"datum":5371}}},
{"data":{"values":[{}]},"mark":{"type":"text","text":"Average-Fitness","fontSize":26,"fontWeight":"bold","baseline":"alphabetic","dy":-10,"color":"#000000"},"encoding":{"x":{"datum":250.5},"y":{"datum":35730}}},
{"data":{"values":[{}]},"mark":{"type":"text","text":"×10⁴","fontSize":23,"align":"left","baseline":"alphabetic","dy":-6,"color":"#262626"},"encoding":{"x":{"datum":1},"y":{"datum":35730}}}
]},
{"layer":[
{"data":{"values":[{}]},"mark":{"type":"rect","fill":"white","stroke":"#000000","strokeWidth":1.5},"encoding":{
"x":{"datum":450,"type":"quantitative","scale":{"domain":[450,500],"range":[579,747],"nice":false,"zero":false},"axis":{"orient":"bottom","offset":-141,"values":[460,480,500],"grid":true,"title":null,"labelFontWeight":"bold","labelColor":"#000000","labelPadding":6,"zindex":1}},
"x2":{"datum":500},
"y":{"datum":-330,"type":"quantitative","scale":{"domain":[-330,10880],"range":[421,286],"nice":false,"zero":false},"axis":{"orient":"left","offset":-579,"values":[0,5000,10000],"format":"d","grid":true,"title":null,"labelFontWeight":"bold","labelColor":"#000000","labelPadding":8,"zindex":1}},
"y2":{"datum":10880}}},
{"transform":[{"filter":"datum.x >= 450"}],"mark":{"type":"line","strokeWidth":0.8,"strokeDash":[6,3,1.5,3]},"encoding":{"x":{"field":"x","type":"quantitative"},"y":{"field":"y","type":"quantitative"},"stroke":{"field":"s","type":"nominal"}}},
{"transform":[{"filter":"datum.x >= 450"}],"mark":{"type":"point","filled":false,"size":64,"strokeWidth":1,"opacity":1},"encoding":{"x":{"field":"x","type":"quantitative"},"y":{"field":"y","type":"quantitative"},"color":{"field":"s","type":"nominal"},"shape":{"field":"s","type":"nominal"}}}
]}
]},
{"width":1174,"height":560,"data":{"name":"d2"},
"resolve":{"scale":{"x":"independent","y":"independent"},"axis":{"x":"independent","y":"independent"}},
"layer":[
{"layer":[
{"mark":{"type":"line","strokeWidth":0.8,"strokeDash":[6,3,1.5,3]},
"encoding":{
"x":{"field":"x","type":"quantitative","scale":{"domain":[1,500],"range":[321.5,879.6],"nice":false,"zero":false},"axis":{"orient":"bottom","offset":-80,"values":[50,100,150,200,250,300,350,400,450,500],"grid":true,"title":"Iteration","labelPadding":11,"titlePadding":5}},
"y":{"field":"y","type":"quantitative","scale":{"domain":[-310000,31110000],"range":[480,42],"nice":false,"zero":false},"axis":{"orient":"left","offset":-321.5,"values":[5000000,10000000,15000000,20000000,25000000,30000000],"labelExpr":"'' + datum.value / 10000000","grid":true,"title":"Fitness","labelPadding":11,"titlePadding":6}},
"stroke":{"field":"s","type":"nominal","scale":{"domain":["GA","PSO","HPSO","MGA","PSODA","Bat","BBO","IGA","~"],"range":["#ff0000","#0000ff","#00ffff","#22e622","#f5168c","#2a0f5e","#0f9a55","#000000","#ffffff"]},"legend":{"values":["GA","PSO","HPSO","MGA","PSODA","Bat","BBO","IGA"],"orient":"none","legendX":618,"legendY":55,"columns":2,"title":null,"padding":6,"labelFontSize":20,"labelExpr":"''","symbolType":"stroke","symbolSize":2809,"symbolStrokeWidth":1,"symbolDash":[6,3,1.5,3],"symbolOffset":0,"labelOffset":0,"columnPadding":62,"rowPadding":3.3,"clipHeight":20,"zindex":2}}}},
{"mark":{"type":"point","filled":false,"size":64,"strokeWidth":1,"opacity":1},
"encoding":{"x":{"field":"x","type":"quantitative"},"y":{"field":"y","type":"quantitative"},
"color":{"field":"s","type":"nominal","scale":{"domain":["GA","PSO","HPSO","MGA","PSODA","Bat","BBO","IGA"],"range":["#ff0000","#0000ff","#00ffff","#22e622","#f5168c","#2a0f5e","#0f9a55","#000000"]},"legend":{"orient":"none","legendX":618,"legendY":55,"columns":2,"title":null,"padding":6,"fillColor":"white","strokeColor":"#262626","labelFontSize":20,"labelColor":"#000000","symbolSize":64,"symbolStrokeWidth":1.2,"symbolOffset":22.5,"labelOffset":23.5,"columnPadding":10,"rowPadding":3.3,"clipHeight":20,"zindex":1,"labelLimit":0}},
"shape":{"field":"s","type":"nominal","scale":{"domain":["GA","PSO","HPSO","MGA","PSODA","Bat","BBO","IGA"],"range":["M-1,0L1,0M0,-1L0,1M-0.7,-0.7L0.7,0.7M-0.7,0.7L0.7,-0.7","M-1,0L1,0M0,-1L0,1","triangle-up","square","diamond","M0,-1L0.225,-0.309L0.951,-0.309L0.363,0.118L0.588,0.809L0,0.382L-0.588,0.809L-0.363,0.118L-0.951,-0.309L-0.225,-0.309Z","M0,-1L0.289,-0.5L0.866,-0.5L0.577,0L0.866,0.5L0.289,0.5L0,1L-0.289,0.5L-0.866,0.5L-0.577,0L-0.866,-0.5L-0.289,-0.5Z","circle"]}}}},
{"data":{"values":[{}]},"mark":{"type":"rect","fill":"transparent","stroke":"#262626","strokeWidth":1},"encoding":{"x":{"datum":1},"x2":{"datum":500},"y":{"datum":-310000},"y2":{"datum":31110000}}},
{"data":{"values":[{}]},"mark":{"type":"rect","fill":"transparent","stroke":"#000000","strokeWidth":1.5},"encoding":{"x":{"datum":450},"x2":{"datum":500},"y":{"datum":-310000},"y2":{"datum":9500000}}},
{"data":{"values":[{}]},"mark":{"type":"rule","stroke":"#000000","strokeWidth":1.3},"encoding":{"x":{"datum":380.2},"y":{"datum":8530000},"x2":{"datum":450},"y2":{"datum":5000000}}},
{"data":{"values":[{}]},"mark":{"type":"text","text":"Average-Fitness","fontSize":26,"fontWeight":"bold","baseline":"alphabetic","dy":-10,"color":"#000000"},"encoding":{"x":{"datum":250.5},"y":{"datum":31110000}}},
{"data":{"values":[{}]},"mark":{"type":"text","text":"×10⁷","fontSize":23,"align":"left","baseline":"alphabetic","dy":-6,"color":"#262626"},"encoding":{"x":{"datum":1},"y":{"datum":31110000}}}
]},
{"layer":[
{"data":{"values":[{}]},"mark":{"type":"rect","fill":"white","stroke":"#000000","strokeWidth":1.5},"encoding":{
"x":{"datum":450,"type":"quantitative","scale":{"domain":[450,500],"range":[577,745],"nice":false,"zero":false},"axis":{"orient":"bottom","offset":-132,"values":[460,480,500],"grid":true,"title":null,"labelFontWeight":"bold","labelColor":"#000000","labelPadding":6,"zindex":1}},
"x2":{"datum":500},
"y":{"datum":-220000,"type":"quantitative","scale":{"domain":[-220000,9600000],"range":[428,294],"nice":false,"zero":false},"axis":{"orient":"left","offset":-577,"values":[0,5000000],"labelExpr":"'' + datum.value / 1000000","grid":true,"title":null,"labelFontWeight":"bold","labelColor":"#000000","labelPadding":8,"zindex":1}},
"y2":{"datum":9600000}}},
{"data":{"values":[{}]},"mark":{"type":"text","text":"×10⁶","fontSize":25,"align":"left","baseline":"alphabetic","dy":-7,"color":"#000000"},"encoding":{"x":{"datum":450},"y":{"datum":9600000}}},
{"transform":[{"filter":"datum.x >= 450"}],"mark":{"type":"line","strokeWidth":0.8,"strokeDash":[6,3,1.5,3]},"encoding":{"x":{"field":"x","type":"quantitative"},"y":{"field":"y","type":"quantitative"},"stroke":{"field":"s","type":"nominal"}}},
{"transform":[{"filter":"datum.x >= 450"}],"mark":{"type":"point","filled":false,"size":64,"strokeWidth":1,"opacity":1},"encoding":{"x":{"field":"x","type":"quantitative"},"y":{"field":"y","type":"quantitative"},"color":{"field":"s","type":"nominal"},"shape":{"field":"s","type":"nominal"}}}
]}
]}
]},
{"spacing":0,
"resolve":{"scale":{"color":"independent","shape":"independent","stroke":"independent"},"legend":{"color":"independent","shape":"independent","stroke":"independent"}},
"vconcat":[
{"width":1174,"height":559,"data":{"name":"d3"},
"resolve":{"scale":{"x":"independent","y":"independent"},"axis":{"x":"independent","y":"independent"}},
"layer":[
{"layer":[
{"mark":{"type":"line","strokeWidth":0.8,"strokeDash":[6,3,1.5,3]},
"encoding":{
"x":{"field":"x","type":"quantitative","scale":{"domain":[1,500],"range":[321.5,879.6],"nice":false,"zero":false},"axis":{"orient":"bottom","offset":-82.4,"values":[50,100,150,200,250,300,350,400,450,500],"grid":true,"title":"Iteration","labelPadding":11,"titlePadding":5}},
"y":{"field":"y","type":"quantitative","scale":{"domain":[-2240,268500],"range":[476.6,41.6],"nice":false,"zero":false},"axis":{"orient":"left","offset":-321.5,"values":[50000,100000,150000,200000,250000],"labelExpr":"'' + datum.value / 100000","grid":true,"title":"Fitness","labelPadding":11,"titlePadding":6}},
"stroke":{"field":"s","type":"nominal","scale":{"domain":["GA","PSO","HPSO","MGA","PSODA","Bat","BBO","IGA","~"],"range":["#ff0000","#0000ff","#00ffff","#22e622","#f5168c","#2a0f5e","#0f9a55","#000000","#ffffff"]},"legend":{"values":["GA","PSO","HPSO","MGA","PSODA","Bat","BBO","IGA"],"orient":"none","legendX":618,"legendY":54,"columns":2,"title":null,"padding":6,"labelFontSize":20,"labelExpr":"''","symbolType":"stroke","symbolSize":2809,"symbolStrokeWidth":1,"symbolDash":[6,3,1.5,3],"symbolOffset":0,"labelOffset":0,"columnPadding":62,"rowPadding":3.3,"clipHeight":20,"zindex":2}}}},
{"mark":{"type":"point","filled":false,"size":64,"strokeWidth":1,"opacity":1},
"encoding":{"x":{"field":"x","type":"quantitative"},"y":{"field":"y","type":"quantitative"},
"color":{"field":"s","type":"nominal","scale":{"domain":["GA","PSO","HPSO","MGA","PSODA","Bat","BBO","IGA"],"range":["#ff0000","#0000ff","#00ffff","#22e622","#f5168c","#2a0f5e","#0f9a55","#000000"]},"legend":{"orient":"none","legendX":618,"legendY":54,"columns":2,"title":null,"padding":6,"fillColor":"white","strokeColor":"#262626","labelFontSize":20,"labelColor":"#000000","symbolSize":64,"symbolStrokeWidth":1.2,"symbolOffset":22.5,"labelOffset":23.5,"columnPadding":10,"rowPadding":3.3,"clipHeight":20,"zindex":1,"labelLimit":0}},
"shape":{"field":"s","type":"nominal","scale":{"domain":["GA","PSO","HPSO","MGA","PSODA","Bat","BBO","IGA"],"range":["M-1,0L1,0M0,-1L0,1M-0.7,-0.7L0.7,0.7M-0.7,0.7L0.7,-0.7","M-1,0L1,0M0,-1L0,1","triangle-up","square","diamond","M0,-1L0.225,-0.309L0.951,-0.309L0.363,0.118L0.588,0.809L0,0.382L-0.588,0.809L-0.363,0.118L-0.951,-0.309L-0.225,-0.309Z","M0,-1L0.289,-0.5L0.866,-0.5L0.577,0L0.866,0.5L0.289,0.5L0,1L-0.289,0.5L-0.866,0.5L-0.577,0L-0.866,-0.5L-0.289,-0.5Z","circle"]}}}},
{"data":{"values":[{}]},"mark":{"type":"rect","fill":"transparent","stroke":"#262626","strokeWidth":1},"encoding":{"x":{"datum":1},"x2":{"datum":500},"y":{"datum":-2240},"y2":{"datum":268500}}},
{"data":{"values":[{}]},"mark":{"type":"rect","fill":"transparent","stroke":"#000000","strokeWidth":1.5},"encoding":{"x":{"datum":450},"x2":{"datum":500},"y":{"datum":-2240},"y2":{"datum":82000}}},
{"data":{"values":[{}]},"mark":{"type":"rule","stroke":"#000000","strokeWidth":1.3},"encoding":{"x":{"datum":380.2},"y":{"datum":77800},"x2":{"datum":450},"y2":{"datum":42300}}},
{"data":{"values":[{}]},"mark":{"type":"text","text":"Average-Fitness","fontSize":26,"fontWeight":"bold","baseline":"alphabetic","dy":-10,"color":"#000000"},"encoding":{"x":{"datum":250.5},"y":{"datum":268500}}},
{"data":{"values":[{}]},"mark":{"type":"text","text":"×10⁵","fontSize":23,"align":"left","baseline":"alphabetic","dy":-6,"color":"#262626"},"encoding":{"x":{"datum":1},"y":{"datum":268500}}}
]},
{"layer":[
{"data":{"values":[{}]},"mark":{"type":"rect","fill":"white","stroke":"#000000","strokeWidth":1.5},"encoding":{
"x":{"datum":450,"type":"quantitative","scale":{"domain":[450,500],"range":[577,743.5],"nice":false,"zero":false},"axis":{"orient":"bottom","offset":-142,"values":[460,480,500],"grid":true,"title":null,"labelFontWeight":"bold","labelColor":"#000000","labelPadding":6,"zindex":1}},
"x2":{"datum":500},
"y":{"datum":-1900,"type":"quantitative","scale":{"domain":[-1900,83000],"range":[417,283.8],"nice":false,"zero":false},"axis":{"orient":"left","offset":-577,"values":[0,50000],"labelExpr":"'' + datum.value / 10000","grid":true,"title":null,"labelFontWeight":"bold","labelColor":"#000000","labelPadding":8,"zindex":1}},
"y2":{"datum":83000}}},
{"data":{"values":[{}]},"mark":{"type":"text","text":"×10⁴","fontSize":25,"align":"left","baseline":"alphabetic","dy":-7,"color":"#000000"},"encoding":{"x":{"datum":450},"y":{"datum":83000}}},
{"transform":[{"filter":"datum.x >= 450"}],"mark":{"type":"line","strokeWidth":0.8,"strokeDash":[6,3,1.5,3]},"encoding":{"x":{"field":"x","type":"quantitative"},"y":{"field":"y","type":"quantitative"},"stroke":{"field":"s","type":"nominal"}}},
{"transform":[{"filter":"datum.x >= 450"}],"mark":{"type":"point","filled":false,"size":64,"strokeWidth":1,"opacity":1},"encoding":{"x":{"field":"x","type":"quantitative"},"y":{"field":"y","type":"quantitative"},"color":{"field":"s","type":"nominal"},"shape":{"field":"s","type":"nominal"}}}
]}
]},
{"width":1174,"height":560,"data":{"name":"d4"},
"resolve":{"scale":{"x":"independent","y":"independent"},"axis":{"x":"independent","y":"independent"}},
"layer":[
{"layer":[
{"mark":{"type":"line","strokeWidth":0.8,"strokeDash":[6,3,1.5,3]},
"encoding":{
"x":{"field":"x","type":"quantitative","scale":{"domain":[1,500],"range":[321.5,879.6],"nice":false,"zero":false},"axis":{"orient":"bottom","offset":-82.3,"values":[50,100,150,200,250,300,350,400,450,500],"grid":true,"title":"Iteration","labelPadding":11,"titlePadding":5}},
"y":{"field":"y","type":"quantitative","scale":{"domain":[-0.63,93.5],"range":[477.7,42],"nice":false,"zero":false},"axis":{"orient":"left","offset":-321.5,"values":[10,20,30,40,50,60,70,80,90],"grid":true,"title":"Fitness","labelPadding":11,"titlePadding":6}},
"stroke":{"field":"s","type":"nominal","scale":{"domain":["GA","PSO","HPSO","MGA","PSODA","Bat","BBO","IGA","~"],"range":["#ff0000","#0000ff","#00ffff","#22e622","#f5168c","#2a0f5e","#0f9a55","#000000","#ffffff"]},"legend":{"values":["GA","PSO","HPSO","MGA","PSODA","Bat","BBO","IGA"],"orient":"none","legendX":626.7,"legendY":46,"columns":2,"title":null,"padding":6,"labelFontSize":20,"labelExpr":"''","symbolType":"stroke","symbolSize":2809,"symbolStrokeWidth":1,"symbolDash":[6,3,1.5,3],"symbolOffset":0,"labelOffset":0,"columnPadding":62,"rowPadding":3.3,"clipHeight":20,"zindex":2}}}},
{"mark":{"type":"point","filled":false,"size":64,"strokeWidth":1,"opacity":1},
"encoding":{"x":{"field":"x","type":"quantitative"},"y":{"field":"y","type":"quantitative"},
"color":{"field":"s","type":"nominal","scale":{"domain":["GA","PSO","HPSO","MGA","PSODA","Bat","BBO","IGA"],"range":["#ff0000","#0000ff","#00ffff","#22e622","#f5168c","#2a0f5e","#0f9a55","#000000"]},"legend":{"orient":"none","legendX":626.7,"legendY":46,"columns":2,"title":null,"padding":6,"fillColor":"white","strokeColor":"#262626","labelFontSize":20,"labelColor":"#000000","symbolSize":64,"symbolStrokeWidth":1.2,"symbolOffset":22.5,"labelOffset":23.5,"columnPadding":10,"rowPadding":3.3,"clipHeight":20,"zindex":1,"labelLimit":0}},
"shape":{"field":"s","type":"nominal","scale":{"domain":["GA","PSO","HPSO","MGA","PSODA","Bat","BBO","IGA"],"range":["M-1,0L1,0M0,-1L0,1M-0.7,-0.7L0.7,0.7M-0.7,0.7L0.7,-0.7","M-1,0L1,0M0,-1L0,1","triangle-up","square","diamond","M0,-1L0.225,-0.309L0.951,-0.309L0.363,0.118L0.588,0.809L0,0.382L-0.588,0.809L-0.363,0.118L-0.951,-0.309L-0.225,-0.309Z","M0,-1L0.289,-0.5L0.866,-0.5L0.577,0L0.866,0.5L0.289,0.5L0,1L-0.289,0.5L-0.866,0.5L-0.577,0L-0.866,-0.5L-0.289,-0.5Z","circle"]}}}},
{"data":{"values":[{}]},"mark":{"type":"rect","fill":"transparent","stroke":"#262626","strokeWidth":1},"encoding":{"x":{"datum":1},"x2":{"datum":500},"y":{"datum":-0.63},"y2":{"datum":93.5}}},
{"data":{"values":[{}]},"mark":{"type":"rect","fill":"transparent","stroke":"#000000","strokeWidth":1.5},"encoding":{"x":{"datum":450},"x2":{"datum":500},"y":{"datum":-0.63},"y2":{"datum":28.4}}},
{"data":{"values":[{}]},"mark":{"type":"rule","stroke":"#000000","strokeWidth":1.3},"encoding":{"x":{"datum":422.1},"y":{"datum":41.2},"x2":{"datum":476},"y2":{"datum":28.4}}},
{"data":{"values":[{}]},"mark":{"type":"text","text":"Average-Fitness","fontSize":26,"fontWeight":"bold","baseline":"alphabetic","dy":-10,"color":"#000000"},"encoding":{"x":{"datum":250.5},"y":{"datum":93.5}}}
]},
{"layer":[
{"data":{"values":[{}]},"mark":{"type":"rect","fill":"white","stroke":"#000000","strokeWidth":1.5},"encoding":{
"x":{"datum":450,"type":"quantitative","scale":{"domain":[450,500],"range":[623,791.7],"nice":false,"zero":false},"axis":{"orient":"bottom","offset":-205.6,"values":[460,480,500],"grid":true,"title":null,"labelFontWeight":"bold","labelColor":"#000000","labelPadding":6,"zindex":1}},
"x2":{"datum":500},
"y":{"datum":-0.3,"type":"quantitative","scale":{"domain":[-0.3,28.2],"range":[354.4,221],"nice":false,"zero":false},"axis":{"orient":"left","offset":-623,"values":[5,10,15,20,25],"grid":true,"title":null,"labelFontWeight":"bold","labelColor":"#000000","labelPadding":8,"zindex":1}},
"y2":{"datum":28.2}}},
{"transform":[{"filter":"datum.x >= 450"}],"mark":{"type":"line","strokeWidth":0.8,"strokeDash":[6,3,1.5,3]},"encoding":{"x":{"field":"x","type":"quantitative"},"y":{"field":"y","type":"quantitative"},"stroke":{"field":"s","type":"nominal"}}},
{"transform":[{"filter":"datum.x >= 450"}],"mark":{"type":"point","filled":false,"size":64,"strokeWidth":1,"opacity":1},"encoding":{"x":{"field":"x","type":"quantitative"},"y":{"field":"y","type":"quantitative"},"color":{"field":"s","type":"nominal"},"shape":{"field":"s","type":"nominal"}}}
]}
]}
]}
]
}
